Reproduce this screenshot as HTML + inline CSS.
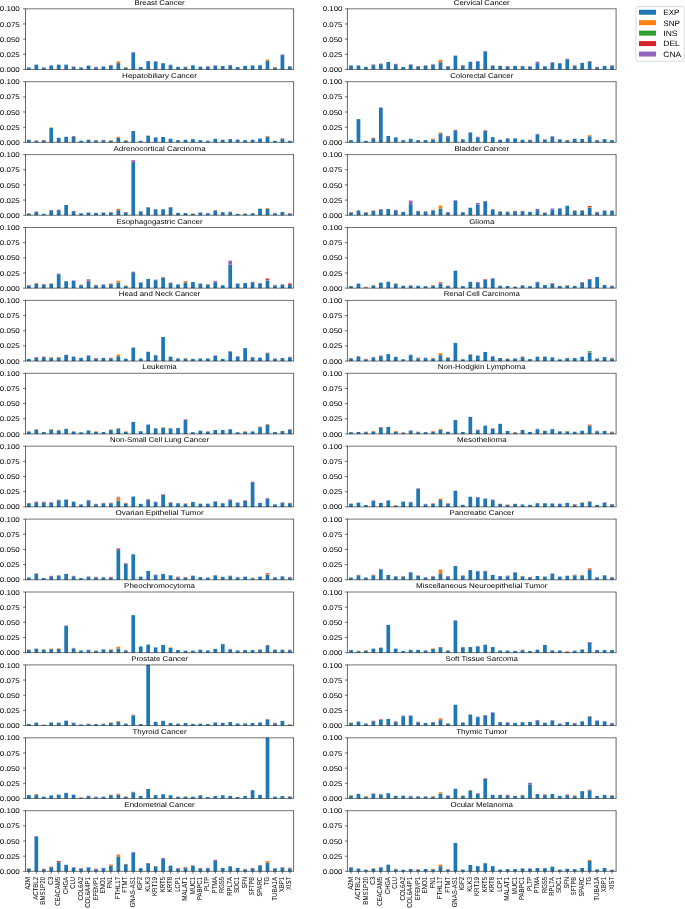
<!DOCTYPE html>
<html><head><meta charset="utf-8"><title>Mutation profile by cancer type</title>
<style>
html,body{margin:0;padding:0;background:#fff;width:685px;height:909px;overflow:hidden;}
svg{display:block;will-change:transform;}
text{font-family:"Liberation Sans",sans-serif;fill:#000;text-rendering:geometricPrecision;}
</style></head><body>
<svg width="685" height="909" viewBox="0 0 685 909">
<rect width="685" height="909" fill="#fff"/>
<rect x="26.99" y="67.45" width="3.72" height="2" fill="#1f77b4"/>
<rect x="34.45" y="64.65" width="3.72" height="4.8" fill="#1f77b4"/>
<rect x="41.9" y="67.45" width="3.72" height="2" fill="#1f77b4"/>
<rect x="49.36" y="65.45" width="3.72" height="4" fill="#1f77b4"/>
<rect x="56.82" y="64.65" width="3.72" height="4.8" fill="#1f77b4"/>
<rect x="64.28" y="64.65" width="3.72" height="4.8" fill="#1f77b4"/>
<rect x="71.74" y="67.05" width="3.72" height="2.4" fill="#1f77b4"/>
<rect x="71.74" y="66.75" width="3.72" height="0.3" fill="#d62728"/>
<rect x="71.74" y="66.45" width="3.72" height="0.3" fill="#9467bd"/>
<rect x="79.19" y="67.45" width="3.72" height="2" fill="#1f77b4"/>
<rect x="86.65" y="65.95" width="3.72" height="3.5" fill="#1f77b4"/>
<rect x="86.65" y="65.45" width="3.72" height="0.5" fill="#9467bd"/>
<rect x="94.11" y="67.35" width="3.72" height="2.1" fill="#1f77b4"/>
<rect x="94.11" y="66.85" width="3.72" height="0.5" fill="#d62728"/>
<rect x="101.57" y="66.45" width="3.72" height="3" fill="#1f77b4"/>
<rect x="109.03" y="65.55" width="3.72" height="3.9" fill="#1f77b4"/>
<rect x="109.03" y="65.05" width="3.72" height="0.5" fill="#d62728"/>
<rect x="116.48" y="63.15" width="3.72" height="6.3" fill="#1f77b4"/>
<rect x="116.48" y="61.35" width="3.72" height="1.8" fill="#ff7f0e"/>
<rect x="123.94" y="67.55" width="3.72" height="1.9" fill="#1f77b4"/>
<rect x="123.94" y="67.05" width="3.72" height="0.5" fill="#ff7f0e"/>
<rect x="131.4" y="52.65" width="3.72" height="16.8" fill="#1f77b4"/>
<rect x="131.4" y="52.15" width="3.72" height="0.5" fill="#9467bd"/>
<rect x="138.86" y="67.05" width="3.72" height="2.4" fill="#1f77b4"/>
<rect x="146.32" y="61.15" width="3.72" height="8.3" fill="#1f77b4"/>
<rect x="153.77" y="61.65" width="3.72" height="7.8" fill="#1f77b4"/>
<rect x="153.77" y="61.15" width="3.72" height="0.5" fill="#9467bd"/>
<rect x="161.23" y="63.25" width="3.72" height="6.2" fill="#1f77b4"/>
<rect x="168.69" y="65.15" width="3.72" height="4.3" fill="#1f77b4"/>
<rect x="168.69" y="64.65" width="3.72" height="0.5" fill="#9467bd"/>
<rect x="176.15" y="66.85" width="3.72" height="2.6" fill="#1f77b4"/>
<rect x="183.61" y="67.25" width="3.72" height="2.2" fill="#1f77b4"/>
<rect x="183.61" y="66.95" width="3.72" height="0.3" fill="#d62728"/>
<rect x="183.61" y="66.65" width="3.72" height="0.3" fill="#9467bd"/>
<rect x="191.06" y="65.25" width="3.72" height="4.2" fill="#1f77b4"/>
<rect x="198.52" y="66.65" width="3.72" height="2.8" fill="#1f77b4"/>
<rect x="205.98" y="66.65" width="3.72" height="2.8" fill="#1f77b4"/>
<rect x="205.98" y="66.35" width="3.72" height="0.3" fill="#ff7f0e"/>
<rect x="205.98" y="66.05" width="3.72" height="0.3" fill="#d62728"/>
<rect x="213.44" y="65.75" width="3.72" height="3.7" fill="#1f77b4"/>
<rect x="213.44" y="65.25" width="3.72" height="0.5" fill="#9467bd"/>
<rect x="220.9" y="66.05" width="3.72" height="3.4" fill="#1f77b4"/>
<rect x="228.35" y="65.35" width="3.72" height="4.1" fill="#1f77b4"/>
<rect x="228.35" y="64.85" width="3.72" height="0.5" fill="#9467bd"/>
<rect x="235.81" y="67.05" width="3.72" height="2.4" fill="#1f77b4"/>
<rect x="243.27" y="65.85" width="3.72" height="3.6" fill="#1f77b4"/>
<rect x="250.73" y="65.45" width="3.72" height="4" fill="#1f77b4"/>
<rect x="258.19" y="65.25" width="3.72" height="4.2" fill="#1f77b4"/>
<rect x="265.64" y="60.75" width="3.72" height="8.7" fill="#1f77b4"/>
<rect x="265.64" y="59.55" width="3.72" height="1.2" fill="#ff7f0e"/>
<rect x="273.1" y="67.75" width="3.72" height="1.7" fill="#1f77b4"/>
<rect x="273.1" y="67.25" width="3.72" height="0.5" fill="#d62728"/>
<rect x="280.56" y="55.05" width="3.72" height="14.4" fill="#1f77b4"/>
<rect x="280.56" y="54.55" width="3.72" height="0.5" fill="#9467bd"/>
<rect x="288.02" y="66.65" width="3.72" height="2.8" fill="#1f77b4"/>
<rect x="288.02" y="66.35" width="3.72" height="0.3" fill="#d62728"/>
<rect x="288.02" y="66.05" width="3.72" height="0.3" fill="#9467bd"/>
<path d="M25.5,8.8V69.45M293.6,8.8V69.45" stroke="#000" stroke-width="0.6" fill="none"/>
<path d="M25.2,8.8H293.9M25.2,69.45H293.9" stroke="#000" stroke-width="0.55" fill="none"/>
<text x="19.8" y="72.05" text-anchor="end" font-size="6.9" textLength="20.04" lengthAdjust="spacingAndGlyphs">0.000</text>
<text x="19.8" y="56.89" text-anchor="end" font-size="6.9" textLength="20.04" lengthAdjust="spacingAndGlyphs">0.025</text>
<text x="19.8" y="41.73" text-anchor="end" font-size="6.9" textLength="20.04" lengthAdjust="spacingAndGlyphs">0.050</text>
<text x="19.8" y="26.56" text-anchor="end" font-size="6.9" textLength="20.04" lengthAdjust="spacingAndGlyphs">0.075</text>
<text x="19.8" y="11.4" text-anchor="end" font-size="6.9" textLength="20.04" lengthAdjust="spacingAndGlyphs">0.100</text>
<path d="M23,69.45H25.5M23,54.29H25.5M23,39.12H25.5M23,23.96H25.5M23,8.8H25.5" stroke="#000" stroke-width="0.55" fill="none"/>
<text x="159.55" y="4.8" text-anchor="middle" font-size="6.9" textLength="50.25" lengthAdjust="spacingAndGlyphs">Breast Cancer</text>
<rect x="349.13" y="65.45" width="3.73" height="4" fill="#1f77b4"/>
<rect x="356.59" y="65.45" width="3.73" height="4" fill="#1f77b4"/>
<rect x="364.05" y="66.85" width="3.73" height="2.6" fill="#1f77b4"/>
<rect x="371.51" y="65.05" width="3.73" height="4.4" fill="#1f77b4"/>
<rect x="371.51" y="64.75" width="3.73" height="0.3" fill="#ff7f0e"/>
<rect x="371.51" y="64.45" width="3.73" height="0.3" fill="#d62728"/>
<rect x="378.97" y="64.15" width="3.73" height="5.3" fill="#1f77b4"/>
<rect x="378.97" y="63.65" width="3.73" height="0.5" fill="#d62728"/>
<rect x="386.42" y="61.95" width="3.73" height="7.5" fill="#1f77b4"/>
<rect x="393.88" y="64.35" width="3.73" height="5.1" fill="#1f77b4"/>
<rect x="393.88" y="63.85" width="3.73" height="0.5" fill="#d62728"/>
<rect x="401.34" y="67.05" width="3.73" height="2.4" fill="#1f77b4"/>
<rect x="408.8" y="64.75" width="3.73" height="4.7" fill="#1f77b4"/>
<rect x="408.8" y="64.25" width="3.73" height="0.5" fill="#9467bd"/>
<rect x="416.26" y="66.55" width="3.73" height="2.9" fill="#1f77b4"/>
<rect x="416.26" y="66.05" width="3.73" height="0.5" fill="#d62728"/>
<rect x="423.71" y="65.75" width="3.73" height="3.7" fill="#1f77b4"/>
<rect x="423.71" y="65.25" width="3.73" height="0.5" fill="#9467bd"/>
<rect x="431.17" y="64.85" width="3.73" height="4.6" fill="#1f77b4"/>
<rect x="431.17" y="64.55" width="3.73" height="0.3" fill="#d62728"/>
<rect x="431.17" y="64.25" width="3.73" height="0.3" fill="#9467bd"/>
<rect x="438.63" y="62.15" width="3.73" height="7.3" fill="#1f77b4"/>
<rect x="438.63" y="59.75" width="3.73" height="2.4" fill="#ff7f0e"/>
<rect x="446.09" y="66.55" width="3.73" height="2.9" fill="#1f77b4"/>
<rect x="446.09" y="66.05" width="3.73" height="0.5" fill="#d62728"/>
<rect x="453.55" y="56.05" width="3.73" height="13.4" fill="#1f77b4"/>
<rect x="453.55" y="55.55" width="3.73" height="0.5" fill="#9467bd"/>
<rect x="461" y="65.75" width="3.73" height="3.7" fill="#1f77b4"/>
<rect x="461" y="65.25" width="3.73" height="0.5" fill="#d62728"/>
<rect x="468.46" y="61.75" width="3.73" height="7.7" fill="#1f77b4"/>
<rect x="475.92" y="61.45" width="3.73" height="8" fill="#1f77b4"/>
<rect x="475.92" y="60.95" width="3.73" height="0.5" fill="#9467bd"/>
<rect x="483.38" y="51.55" width="3.73" height="17.9" fill="#1f77b4"/>
<rect x="483.38" y="51.25" width="3.73" height="0.3" fill="#d62728"/>
<rect x="483.38" y="50.95" width="3.73" height="0.3" fill="#9467bd"/>
<rect x="490.84" y="65.75" width="3.73" height="3.7" fill="#1f77b4"/>
<rect x="490.84" y="65.25" width="3.73" height="0.5" fill="#ff7f0e"/>
<rect x="498.29" y="65.85" width="3.73" height="3.6" fill="#1f77b4"/>
<rect x="505.75" y="66.55" width="3.73" height="2.9" fill="#1f77b4"/>
<rect x="505.75" y="66.05" width="3.73" height="0.5" fill="#d62728"/>
<rect x="513.21" y="65.85" width="3.73" height="3.6" fill="#1f77b4"/>
<rect x="520.67" y="66.35" width="3.73" height="3.1" fill="#1f77b4"/>
<rect x="520.67" y="65.85" width="3.73" height="0.5" fill="#d62728"/>
<rect x="528.13" y="66.65" width="3.73" height="2.8" fill="#1f77b4"/>
<rect x="528.13" y="66.35" width="3.73" height="0.3" fill="#d62728"/>
<rect x="528.13" y="66.05" width="3.73" height="0.3" fill="#9467bd"/>
<rect x="535.58" y="63.15" width="3.73" height="6.3" fill="#1f77b4"/>
<rect x="535.58" y="61.75" width="3.73" height="1.4" fill="#9467bd"/>
<rect x="543.04" y="66.25" width="3.73" height="3.2" fill="#1f77b4"/>
<rect x="550.5" y="62.65" width="3.73" height="6.8" fill="#1f77b4"/>
<rect x="550.5" y="62.15" width="3.73" height="0.5" fill="#9467bd"/>
<rect x="557.96" y="63.25" width="3.73" height="6.2" fill="#1f77b4"/>
<rect x="565.42" y="59.25" width="3.73" height="10.2" fill="#1f77b4"/>
<rect x="565.42" y="58.75" width="3.73" height="0.5" fill="#9467bd"/>
<rect x="572.87" y="65.95" width="3.73" height="3.5" fill="#1f77b4"/>
<rect x="572.87" y="65.45" width="3.73" height="0.5" fill="#d62728"/>
<rect x="580.33" y="62.85" width="3.73" height="6.6" fill="#1f77b4"/>
<rect x="587.79" y="61.65" width="3.73" height="7.8" fill="#1f77b4"/>
<rect x="587.79" y="61.15" width="3.73" height="0.5" fill="#d62728"/>
<rect x="595.25" y="67.35" width="3.73" height="2.1" fill="#1f77b4"/>
<rect x="595.25" y="66.85" width="3.73" height="0.5" fill="#d62728"/>
<rect x="602.71" y="65.85" width="3.73" height="3.6" fill="#1f77b4"/>
<rect x="610.16" y="65.85" width="3.73" height="3.6" fill="#1f77b4"/>
<rect x="610.16" y="65.55" width="3.73" height="0.3" fill="#ff7f0e"/>
<rect x="610.16" y="65.25" width="3.73" height="0.3" fill="#d62728"/>
<path d="M347.4,8.8V69.45M616.1,8.8V69.45" stroke="#000" stroke-width="0.6" fill="none"/>
<path d="M347.1,8.8H616.4M347.1,69.45H616.4" stroke="#000" stroke-width="0.55" fill="none"/>
<text x="342.4" y="72.05" text-anchor="end" font-size="6.9" textLength="19.61" lengthAdjust="spacingAndGlyphs">0.000</text>
<text x="342.4" y="56.89" text-anchor="end" font-size="6.9" textLength="19.61" lengthAdjust="spacingAndGlyphs">0.025</text>
<text x="342.4" y="41.73" text-anchor="end" font-size="6.9" textLength="19.61" lengthAdjust="spacingAndGlyphs">0.050</text>
<text x="342.4" y="26.56" text-anchor="end" font-size="6.9" textLength="19.61" lengthAdjust="spacingAndGlyphs">0.075</text>
<text x="342.4" y="11.4" text-anchor="end" font-size="6.9" textLength="19.61" lengthAdjust="spacingAndGlyphs">0.100</text>
<path d="M344.9,69.45H347.4M344.9,54.29H347.4M344.9,39.12H347.4M344.9,23.96H347.4M344.9,8.8H347.4" stroke="#000" stroke-width="0.55" fill="none"/>
<text x="481.75" y="4.8" text-anchor="middle" font-size="6.9" textLength="55.9" lengthAdjust="spacingAndGlyphs">Cervical Cancer</text>
<rect x="26.99" y="139.75" width="3.72" height="2.6" fill="#1f77b4"/>
<rect x="34.45" y="140.85" width="3.72" height="1.5" fill="#1f77b4"/>
<rect x="34.45" y="140.35" width="3.72" height="0.5" fill="#ff7f0e"/>
<rect x="41.9" y="140.45" width="3.72" height="1.9" fill="#1f77b4"/>
<rect x="41.9" y="139.95" width="3.72" height="0.5" fill="#d62728"/>
<rect x="49.36" y="127.95" width="3.72" height="14.4" fill="#1f77b4"/>
<rect x="49.36" y="127.45" width="3.72" height="0.5" fill="#ff7f0e"/>
<rect x="56.82" y="137.75" width="3.72" height="4.6" fill="#1f77b4"/>
<rect x="64.28" y="136.75" width="3.72" height="5.6" fill="#1f77b4"/>
<rect x="71.74" y="136.55" width="3.72" height="5.8" fill="#1f77b4"/>
<rect x="71.74" y="136.05" width="3.72" height="0.5" fill="#d62728"/>
<rect x="79.19" y="140.75" width="3.72" height="1.6" fill="#1f77b4"/>
<rect x="86.65" y="139.75" width="3.72" height="2.6" fill="#1f77b4"/>
<rect x="94.11" y="140.65" width="3.72" height="1.7" fill="#1f77b4"/>
<rect x="94.11" y="140.15" width="3.72" height="0.5" fill="#d62728"/>
<rect x="101.57" y="140.25" width="3.72" height="2.1" fill="#1f77b4"/>
<rect x="101.57" y="139.75" width="3.72" height="0.5" fill="#9467bd"/>
<rect x="109.03" y="140.65" width="3.72" height="1.7" fill="#1f77b4"/>
<rect x="109.03" y="140.15" width="3.72" height="0.5" fill="#ff7f0e"/>
<rect x="116.48" y="137.95" width="3.72" height="4.4" fill="#1f77b4"/>
<rect x="116.48" y="136.75" width="3.72" height="1.2" fill="#ff7f0e"/>
<rect x="123.94" y="140.65" width="3.72" height="1.7" fill="#1f77b4"/>
<rect x="123.94" y="140.15" width="3.72" height="0.5" fill="#ff7f0e"/>
<rect x="131.4" y="131.05" width="3.72" height="11.3" fill="#1f77b4"/>
<rect x="138.86" y="140.75" width="3.72" height="1.6" fill="#1f77b4"/>
<rect x="146.32" y="135.65" width="3.72" height="6.7" fill="#1f77b4"/>
<rect x="153.77" y="137.35" width="3.72" height="5" fill="#1f77b4"/>
<rect x="161.23" y="136.95" width="3.72" height="5.4" fill="#1f77b4"/>
<rect x="168.69" y="138.75" width="3.72" height="3.6" fill="#1f77b4"/>
<rect x="176.15" y="140.15" width="3.72" height="2.2" fill="#1f77b4"/>
<rect x="183.61" y="139.75" width="3.72" height="2.6" fill="#1f77b4"/>
<rect x="191.06" y="139.15" width="3.72" height="3.2" fill="#1f77b4"/>
<rect x="198.52" y="140.15" width="3.72" height="2.2" fill="#1f77b4"/>
<rect x="205.98" y="140.75" width="3.72" height="1.6" fill="#1f77b4"/>
<rect x="213.44" y="138.75" width="3.72" height="3.6" fill="#1f77b4"/>
<rect x="220.9" y="139.75" width="3.72" height="2.6" fill="#1f77b4"/>
<rect x="228.35" y="139.15" width="3.72" height="3.2" fill="#1f77b4"/>
<rect x="235.81" y="139.55" width="3.72" height="2.8" fill="#1f77b4"/>
<rect x="243.27" y="140.15" width="3.72" height="2.2" fill="#1f77b4"/>
<rect x="250.73" y="139.75" width="3.72" height="2.6" fill="#1f77b4"/>
<rect x="258.19" y="138.55" width="3.72" height="3.8" fill="#1f77b4"/>
<rect x="265.64" y="136.75" width="3.72" height="5.6" fill="#1f77b4"/>
<rect x="265.64" y="135.95" width="3.72" height="0.8" fill="#ff7f0e"/>
<rect x="273.1" y="140.75" width="3.72" height="1.6" fill="#1f77b4"/>
<rect x="280.56" y="138.95" width="3.72" height="3.4" fill="#1f77b4"/>
<rect x="280.56" y="138.65" width="3.72" height="0.3" fill="#ff7f0e"/>
<rect x="280.56" y="138.35" width="3.72" height="0.3" fill="#d62728"/>
<rect x="288.02" y="140.75" width="3.72" height="1.6" fill="#1f77b4"/>
<path d="M25.5,81.7V142.35M293.6,81.7V142.35" stroke="#000" stroke-width="0.6" fill="none"/>
<path d="M25.2,81.7H293.9M25.2,142.35H293.9" stroke="#000" stroke-width="0.55" fill="none"/>
<text x="19.8" y="144.95" text-anchor="end" font-size="6.9" textLength="20.04" lengthAdjust="spacingAndGlyphs">0.000</text>
<text x="19.8" y="129.79" text-anchor="end" font-size="6.9" textLength="20.04" lengthAdjust="spacingAndGlyphs">0.025</text>
<text x="19.8" y="114.62" text-anchor="end" font-size="6.9" textLength="20.04" lengthAdjust="spacingAndGlyphs">0.050</text>
<text x="19.8" y="99.46" text-anchor="end" font-size="6.9" textLength="20.04" lengthAdjust="spacingAndGlyphs">0.075</text>
<text x="19.8" y="84.3" text-anchor="end" font-size="6.9" textLength="20.04" lengthAdjust="spacingAndGlyphs">0.100</text>
<path d="M23,142.35H25.5M23,127.19H25.5M23,112.02H25.5M23,96.86H25.5M23,81.7H25.5" stroke="#000" stroke-width="0.55" fill="none"/>
<text x="159.55" y="77.7" text-anchor="middle" font-size="6.9" textLength="74.84" lengthAdjust="spacingAndGlyphs">Hepatobiliary Cancer</text>
<rect x="349.13" y="140.15" width="3.73" height="2.2" fill="#1f77b4"/>
<rect x="356.59" y="119.15" width="3.73" height="23.2" fill="#1f77b4"/>
<rect x="364.05" y="140.75" width="3.73" height="1.6" fill="#1f77b4"/>
<rect x="371.51" y="138.35" width="3.73" height="4" fill="#1f77b4"/>
<rect x="371.51" y="138.05" width="3.73" height="0.3" fill="#ff7f0e"/>
<rect x="371.51" y="137.75" width="3.73" height="0.3" fill="#d62728"/>
<rect x="378.97" y="107.95" width="3.73" height="34.4" fill="#1f77b4"/>
<rect x="378.97" y="107.45" width="3.73" height="0.5" fill="#9467bd"/>
<rect x="386.42" y="135.95" width="3.73" height="6.4" fill="#1f77b4"/>
<rect x="393.88" y="137.35" width="3.73" height="5" fill="#1f77b4"/>
<rect x="401.34" y="140.15" width="3.73" height="2.2" fill="#1f77b4"/>
<rect x="408.8" y="138.75" width="3.73" height="3.6" fill="#1f77b4"/>
<rect x="416.26" y="140.15" width="3.73" height="2.2" fill="#1f77b4"/>
<rect x="423.71" y="140.15" width="3.73" height="2.2" fill="#1f77b4"/>
<rect x="431.17" y="139.35" width="3.73" height="3" fill="#1f77b4"/>
<rect x="431.17" y="139.05" width="3.73" height="0.3" fill="#ff7f0e"/>
<rect x="431.17" y="138.75" width="3.73" height="0.3" fill="#d62728"/>
<rect x="438.63" y="133.45" width="3.73" height="8.9" fill="#1f77b4"/>
<rect x="438.63" y="132.45" width="3.73" height="1" fill="#ff7f0e"/>
<rect x="446.09" y="136.45" width="3.73" height="5.9" fill="#1f77b4"/>
<rect x="446.09" y="135.95" width="3.73" height="0.5" fill="#d62728"/>
<rect x="453.55" y="130.35" width="3.73" height="12" fill="#1f77b4"/>
<rect x="453.55" y="129.85" width="3.73" height="0.5" fill="#d62728"/>
<rect x="461" y="139.35" width="3.73" height="3" fill="#1f77b4"/>
<rect x="468.46" y="132.45" width="3.73" height="9.9" fill="#1f77b4"/>
<rect x="475.92" y="137.25" width="3.73" height="5.1" fill="#1f77b4"/>
<rect x="475.92" y="136.75" width="3.73" height="0.5" fill="#9467bd"/>
<rect x="483.38" y="130.95" width="3.73" height="11.4" fill="#1f77b4"/>
<rect x="483.38" y="130.45" width="3.73" height="0.5" fill="#d62728"/>
<rect x="490.84" y="137.15" width="3.73" height="5.2" fill="#1f77b4"/>
<rect x="498.29" y="139.75" width="3.73" height="2.6" fill="#1f77b4"/>
<rect x="505.75" y="138.65" width="3.73" height="3.7" fill="#1f77b4"/>
<rect x="505.75" y="138.15" width="3.73" height="0.5" fill="#9467bd"/>
<rect x="513.21" y="138.35" width="3.73" height="4" fill="#1f77b4"/>
<rect x="520.67" y="139.75" width="3.73" height="2.6" fill="#1f77b4"/>
<rect x="528.13" y="140.25" width="3.73" height="2.1" fill="#1f77b4"/>
<rect x="528.13" y="139.75" width="3.73" height="0.5" fill="#d62728"/>
<rect x="535.58" y="134.35" width="3.73" height="8" fill="#1f77b4"/>
<rect x="535.58" y="133.85" width="3.73" height="0.5" fill="#9467bd"/>
<rect x="543.04" y="139.45" width="3.73" height="2.9" fill="#1f77b4"/>
<rect x="543.04" y="138.95" width="3.73" height="0.5" fill="#ff7f0e"/>
<rect x="550.5" y="136.65" width="3.73" height="5.7" fill="#1f77b4"/>
<rect x="550.5" y="136.15" width="3.73" height="0.5" fill="#9467bd"/>
<rect x="557.96" y="139.55" width="3.73" height="2.8" fill="#1f77b4"/>
<rect x="557.96" y="139.25" width="3.73" height="0.3" fill="#d62728"/>
<rect x="557.96" y="138.95" width="3.73" height="0.3" fill="#9467bd"/>
<rect x="565.42" y="140.45" width="3.73" height="1.9" fill="#1f77b4"/>
<rect x="565.42" y="139.95" width="3.73" height="0.5" fill="#d62728"/>
<rect x="572.87" y="138.75" width="3.73" height="3.6" fill="#1f77b4"/>
<rect x="580.33" y="138.95" width="3.73" height="3.4" fill="#1f77b4"/>
<rect x="587.79" y="136.25" width="3.73" height="6.1" fill="#1f77b4"/>
<rect x="587.79" y="135.25" width="3.73" height="1" fill="#ff7f0e"/>
<rect x="595.25" y="140.45" width="3.73" height="1.9" fill="#1f77b4"/>
<rect x="595.25" y="139.95" width="3.73" height="0.5" fill="#d62728"/>
<rect x="602.71" y="139.15" width="3.73" height="3.2" fill="#1f77b4"/>
<rect x="610.16" y="140.15" width="3.73" height="2.2" fill="#1f77b4"/>
<path d="M347.4,81.7V142.35M616.1,81.7V142.35" stroke="#000" stroke-width="0.6" fill="none"/>
<path d="M347.1,81.7H616.4M347.1,142.35H616.4" stroke="#000" stroke-width="0.55" fill="none"/>
<text x="342.4" y="144.95" text-anchor="end" font-size="6.9" textLength="19.61" lengthAdjust="spacingAndGlyphs">0.000</text>
<text x="342.4" y="129.79" text-anchor="end" font-size="6.9" textLength="19.61" lengthAdjust="spacingAndGlyphs">0.025</text>
<text x="342.4" y="114.62" text-anchor="end" font-size="6.9" textLength="19.61" lengthAdjust="spacingAndGlyphs">0.050</text>
<text x="342.4" y="99.46" text-anchor="end" font-size="6.9" textLength="19.61" lengthAdjust="spacingAndGlyphs">0.075</text>
<text x="342.4" y="84.3" text-anchor="end" font-size="6.9" textLength="19.61" lengthAdjust="spacingAndGlyphs">0.100</text>
<path d="M344.9,142.35H347.4M344.9,127.19H347.4M344.9,112.02H347.4M344.9,96.86H347.4M344.9,81.7H347.4" stroke="#000" stroke-width="0.55" fill="none"/>
<text x="481.75" y="77.7" text-anchor="middle" font-size="6.9" textLength="63.17" lengthAdjust="spacingAndGlyphs">Colorectal Cancer</text>
<rect x="26.99" y="213.55" width="3.72" height="1.7" fill="#1f77b4"/>
<rect x="26.99" y="213.05" width="3.72" height="0.5" fill="#ff7f0e"/>
<rect x="34.45" y="212.05" width="3.72" height="3.2" fill="#1f77b4"/>
<rect x="34.45" y="211.75" width="3.72" height="0.3" fill="#d62728"/>
<rect x="34.45" y="211.45" width="3.72" height="0.3" fill="#9467bd"/>
<rect x="41.9" y="213.85" width="3.72" height="1.4" fill="#1f77b4"/>
<rect x="49.36" y="210.55" width="3.72" height="4.7" fill="#1f77b4"/>
<rect x="49.36" y="210.05" width="3.72" height="0.5" fill="#d62728"/>
<rect x="56.82" y="210.15" width="3.72" height="5.1" fill="#1f77b4"/>
<rect x="56.82" y="209.65" width="3.72" height="0.5" fill="#9467bd"/>
<rect x="64.28" y="204.95" width="3.72" height="10.3" fill="#1f77b4"/>
<rect x="71.74" y="211.35" width="3.72" height="3.9" fill="#1f77b4"/>
<rect x="71.74" y="210.85" width="3.72" height="0.5" fill="#d62728"/>
<rect x="79.19" y="213.25" width="3.72" height="2" fill="#1f77b4"/>
<rect x="86.65" y="212.75" width="3.72" height="2.5" fill="#1f77b4"/>
<rect x="86.65" y="212.25" width="3.72" height="0.5" fill="#9467bd"/>
<rect x="94.11" y="212.85" width="3.72" height="2.4" fill="#1f77b4"/>
<rect x="101.57" y="212.75" width="3.72" height="2.5" fill="#1f77b4"/>
<rect x="101.57" y="212.25" width="3.72" height="0.5" fill="#9467bd"/>
<rect x="109.03" y="212.55" width="3.72" height="2.7" fill="#1f77b4"/>
<rect x="109.03" y="212.05" width="3.72" height="0.5" fill="#d62728"/>
<rect x="116.48" y="210.15" width="3.72" height="5.1" fill="#1f77b4"/>
<rect x="116.48" y="208.75" width="3.72" height="1.4" fill="#ff7f0e"/>
<rect x="123.94" y="212.55" width="3.72" height="2.7" fill="#1f77b4"/>
<rect x="123.94" y="212.05" width="3.72" height="0.5" fill="#d62728"/>
<rect x="131.4" y="162.05" width="3.72" height="53.2" fill="#1f77b4"/>
<rect x="131.4" y="161.35" width="3.72" height="0.7" fill="#d62728"/>
<rect x="131.4" y="160.15" width="3.72" height="1.2" fill="#9467bd"/>
<rect x="138.86" y="211.35" width="3.72" height="3.9" fill="#1f77b4"/>
<rect x="138.86" y="210.85" width="3.72" height="0.5" fill="#ff7f0e"/>
<rect x="146.32" y="207.35" width="3.72" height="7.9" fill="#1f77b4"/>
<rect x="153.77" y="209.55" width="3.72" height="5.7" fill="#1f77b4"/>
<rect x="153.77" y="209.25" width="3.72" height="0.3" fill="#d62728"/>
<rect x="153.77" y="208.95" width="3.72" height="0.3" fill="#9467bd"/>
<rect x="161.23" y="209.25" width="3.72" height="6" fill="#1f77b4"/>
<rect x="168.69" y="207.55" width="3.72" height="7.7" fill="#1f77b4"/>
<rect x="168.69" y="207.25" width="3.72" height="0.3" fill="#d62728"/>
<rect x="168.69" y="206.95" width="3.72" height="0.3" fill="#9467bd"/>
<rect x="176.15" y="212.85" width="3.72" height="2.4" fill="#1f77b4"/>
<rect x="183.61" y="213.05" width="3.72" height="2.2" fill="#1f77b4"/>
<rect x="191.06" y="213.95" width="3.72" height="1.3" fill="#1f77b4"/>
<rect x="191.06" y="213.45" width="3.72" height="0.5" fill="#ff7f0e"/>
<rect x="198.52" y="212.45" width="3.72" height="2.8" fill="#1f77b4"/>
<rect x="205.98" y="213.35" width="3.72" height="1.9" fill="#1f77b4"/>
<rect x="205.98" y="212.85" width="3.72" height="0.5" fill="#9467bd"/>
<rect x="213.44" y="210.75" width="3.72" height="4.5" fill="#1f77b4"/>
<rect x="213.44" y="210.25" width="3.72" height="0.5" fill="#d62728"/>
<rect x="220.9" y="212.25" width="3.72" height="3" fill="#1f77b4"/>
<rect x="228.35" y="212.15" width="3.72" height="3.1" fill="#1f77b4"/>
<rect x="228.35" y="211.65" width="3.72" height="0.5" fill="#9467bd"/>
<rect x="235.81" y="213.85" width="3.72" height="1.4" fill="#1f77b4"/>
<rect x="243.27" y="213.95" width="3.72" height="1.3" fill="#1f77b4"/>
<rect x="243.27" y="213.45" width="3.72" height="0.5" fill="#ff7f0e"/>
<rect x="250.73" y="213.25" width="3.72" height="2" fill="#1f77b4"/>
<rect x="258.19" y="208.65" width="3.72" height="6.6" fill="#1f77b4"/>
<rect x="265.64" y="208.95" width="3.72" height="6.3" fill="#1f77b4"/>
<rect x="265.64" y="208.15" width="3.72" height="0.8" fill="#ff7f0e"/>
<rect x="273.1" y="213.35" width="3.72" height="1.9" fill="#1f77b4"/>
<rect x="273.1" y="212.85" width="3.72" height="0.5" fill="#9467bd"/>
<rect x="280.56" y="212.05" width="3.72" height="3.2" fill="#1f77b4"/>
<rect x="288.02" y="213.65" width="3.72" height="1.6" fill="#1f77b4"/>
<rect x="288.02" y="213.35" width="3.72" height="0.3" fill="#ff7f0e"/>
<rect x="288.02" y="213.05" width="3.72" height="0.3" fill="#d62728"/>
<path d="M25.5,154.6V215.25M293.6,154.6V215.25" stroke="#000" stroke-width="0.6" fill="none"/>
<path d="M25.2,154.6H293.9M25.2,215.25H293.9" stroke="#000" stroke-width="0.55" fill="none"/>
<text x="19.8" y="217.85" text-anchor="end" font-size="6.9" textLength="20.04" lengthAdjust="spacingAndGlyphs">0.000</text>
<text x="19.8" y="202.69" text-anchor="end" font-size="6.9" textLength="20.04" lengthAdjust="spacingAndGlyphs">0.025</text>
<text x="19.8" y="187.53" text-anchor="end" font-size="6.9" textLength="20.04" lengthAdjust="spacingAndGlyphs">0.050</text>
<text x="19.8" y="172.36" text-anchor="end" font-size="6.9" textLength="20.04" lengthAdjust="spacingAndGlyphs">0.075</text>
<text x="19.8" y="157.2" text-anchor="end" font-size="6.9" textLength="20.04" lengthAdjust="spacingAndGlyphs">0.100</text>
<path d="M23,215.25H25.5M23,200.09H25.5M23,184.93H25.5M23,169.76H25.5M23,154.6H25.5" stroke="#000" stroke-width="0.55" fill="none"/>
<text x="159.55" y="150.6" text-anchor="middle" font-size="6.9" textLength="92.12" lengthAdjust="spacingAndGlyphs">Adrenocortical Carcinoma</text>
<rect x="349.13" y="212.75" width="3.73" height="2.5" fill="#1f77b4"/>
<rect x="349.13" y="212.25" width="3.73" height="0.5" fill="#d62728"/>
<rect x="356.59" y="210.45" width="3.73" height="4.8" fill="#1f77b4"/>
<rect x="364.05" y="212.75" width="3.73" height="2.5" fill="#1f77b4"/>
<rect x="364.05" y="212.25" width="3.73" height="0.5" fill="#d62728"/>
<rect x="371.51" y="211.05" width="3.73" height="4.2" fill="#1f77b4"/>
<rect x="371.51" y="210.75" width="3.73" height="0.3" fill="#ff7f0e"/>
<rect x="371.51" y="210.45" width="3.73" height="0.3" fill="#d62728"/>
<rect x="378.97" y="209.55" width="3.73" height="5.7" fill="#1f77b4"/>
<rect x="378.97" y="209.05" width="3.73" height="0.5" fill="#9467bd"/>
<rect x="386.42" y="209.05" width="3.73" height="6.2" fill="#1f77b4"/>
<rect x="393.88" y="210.35" width="3.73" height="4.9" fill="#1f77b4"/>
<rect x="393.88" y="209.85" width="3.73" height="0.5" fill="#d62728"/>
<rect x="401.34" y="211.85" width="3.73" height="3.4" fill="#1f77b4"/>
<rect x="408.8" y="204.15" width="3.73" height="11.1" fill="#1f77b4"/>
<rect x="408.8" y="200.55" width="3.73" height="3.6" fill="#9467bd"/>
<rect x="416.26" y="211.35" width="3.73" height="3.9" fill="#1f77b4"/>
<rect x="416.26" y="210.85" width="3.73" height="0.5" fill="#d62728"/>
<rect x="423.71" y="211.75" width="3.73" height="3.5" fill="#1f77b4"/>
<rect x="423.71" y="211.25" width="3.73" height="0.5" fill="#9467bd"/>
<rect x="431.17" y="210.45" width="3.73" height="4.8" fill="#1f77b4"/>
<rect x="431.17" y="210.15" width="3.73" height="0.3" fill="#ff7f0e"/>
<rect x="431.17" y="209.85" width="3.73" height="0.3" fill="#d62728"/>
<rect x="438.63" y="208.75" width="3.73" height="6.5" fill="#1f77b4"/>
<rect x="438.63" y="205.55" width="3.73" height="3.2" fill="#ff7f0e"/>
<rect x="446.09" y="212.55" width="3.73" height="2.7" fill="#1f77b4"/>
<rect x="446.09" y="212.05" width="3.73" height="0.5" fill="#d62728"/>
<rect x="453.55" y="200.65" width="3.73" height="14.6" fill="#1f77b4"/>
<rect x="453.55" y="200.15" width="3.73" height="0.5" fill="#9467bd"/>
<rect x="461" y="212.35" width="3.73" height="2.9" fill="#1f77b4"/>
<rect x="461" y="211.85" width="3.73" height="0.5" fill="#9467bd"/>
<rect x="468.46" y="207.75" width="3.73" height="7.5" fill="#1f77b4"/>
<rect x="475.92" y="204.75" width="3.73" height="10.5" fill="#1f77b4"/>
<rect x="475.92" y="202.95" width="3.73" height="1.8" fill="#9467bd"/>
<rect x="483.38" y="201.45" width="3.73" height="13.8" fill="#1f77b4"/>
<rect x="483.38" y="200.95" width="3.73" height="0.5" fill="#d62728"/>
<rect x="490.84" y="209.55" width="3.73" height="5.7" fill="#1f77b4"/>
<rect x="490.84" y="209.05" width="3.73" height="0.5" fill="#9467bd"/>
<rect x="498.29" y="211.45" width="3.73" height="3.8" fill="#1f77b4"/>
<rect x="505.75" y="212.05" width="3.73" height="3.2" fill="#1f77b4"/>
<rect x="505.75" y="211.75" width="3.73" height="0.3" fill="#ff7f0e"/>
<rect x="505.75" y="211.45" width="3.73" height="0.3" fill="#2ca02c"/>
<rect x="513.21" y="211.35" width="3.73" height="3.9" fill="#1f77b4"/>
<rect x="513.21" y="210.85" width="3.73" height="0.5" fill="#d62728"/>
<rect x="520.67" y="211.35" width="3.73" height="3.9" fill="#1f77b4"/>
<rect x="520.67" y="210.85" width="3.73" height="0.5" fill="#d62728"/>
<rect x="528.13" y="211.85" width="3.73" height="3.4" fill="#1f77b4"/>
<rect x="535.58" y="210.05" width="3.73" height="5.2" fill="#1f77b4"/>
<rect x="535.58" y="208.85" width="3.73" height="1.2" fill="#9467bd"/>
<rect x="543.04" y="212.95" width="3.73" height="2.3" fill="#1f77b4"/>
<rect x="543.04" y="212.45" width="3.73" height="0.5" fill="#ff7f0e"/>
<rect x="550.5" y="209.65" width="3.73" height="5.6" fill="#1f77b4"/>
<rect x="550.5" y="208.45" width="3.73" height="1.2" fill="#9467bd"/>
<rect x="557.96" y="208.65" width="3.73" height="6.6" fill="#1f77b4"/>
<rect x="557.96" y="208.15" width="3.73" height="0.5" fill="#9467bd"/>
<rect x="565.42" y="205.75" width="3.73" height="9.5" fill="#1f77b4"/>
<rect x="572.87" y="210.85" width="3.73" height="4.4" fill="#1f77b4"/>
<rect x="572.87" y="210.55" width="3.73" height="0.3" fill="#ff7f0e"/>
<rect x="572.87" y="210.25" width="3.73" height="0.3" fill="#d62728"/>
<rect x="580.33" y="210.45" width="3.73" height="4.8" fill="#1f77b4"/>
<rect x="587.79" y="207.75" width="3.73" height="7.5" fill="#1f77b4"/>
<rect x="587.79" y="206.95" width="3.73" height="0.8" fill="#ff7f0e"/>
<rect x="587.79" y="205.95" width="3.73" height="1" fill="#d62728"/>
<rect x="595.25" y="212.35" width="3.73" height="2.9" fill="#1f77b4"/>
<rect x="595.25" y="211.85" width="3.73" height="0.5" fill="#d62728"/>
<rect x="602.71" y="210.75" width="3.73" height="4.5" fill="#1f77b4"/>
<rect x="602.71" y="210.25" width="3.73" height="0.5" fill="#9467bd"/>
<rect x="610.16" y="211.05" width="3.73" height="4.2" fill="#1f77b4"/>
<rect x="610.16" y="210.75" width="3.73" height="0.3" fill="#d62728"/>
<rect x="610.16" y="210.45" width="3.73" height="0.3" fill="#9467bd"/>
<path d="M347.4,154.6V215.25M616.1,154.6V215.25" stroke="#000" stroke-width="0.6" fill="none"/>
<path d="M347.1,154.6H616.4M347.1,215.25H616.4" stroke="#000" stroke-width="0.55" fill="none"/>
<text x="342.4" y="217.85" text-anchor="end" font-size="6.9" textLength="19.61" lengthAdjust="spacingAndGlyphs">0.000</text>
<text x="342.4" y="202.69" text-anchor="end" font-size="6.9" textLength="19.61" lengthAdjust="spacingAndGlyphs">0.025</text>
<text x="342.4" y="187.53" text-anchor="end" font-size="6.9" textLength="19.61" lengthAdjust="spacingAndGlyphs">0.050</text>
<text x="342.4" y="172.36" text-anchor="end" font-size="6.9" textLength="19.61" lengthAdjust="spacingAndGlyphs">0.075</text>
<text x="342.4" y="157.2" text-anchor="end" font-size="6.9" textLength="19.61" lengthAdjust="spacingAndGlyphs">0.100</text>
<path d="M344.9,215.25H347.4M344.9,200.09H347.4M344.9,184.93H347.4M344.9,169.76H347.4M344.9,154.6H347.4" stroke="#000" stroke-width="0.55" fill="none"/>
<text x="481.75" y="150.6" text-anchor="middle" font-size="6.9" textLength="54.75" lengthAdjust="spacingAndGlyphs">Bladder Cancer</text>
<rect x="26.99" y="285.65" width="3.72" height="2.5" fill="#1f77b4"/>
<rect x="26.99" y="285.15" width="3.72" height="0.5" fill="#d62728"/>
<rect x="34.45" y="283.85" width="3.72" height="4.3" fill="#1f77b4"/>
<rect x="34.45" y="283.35" width="3.72" height="0.5" fill="#d62728"/>
<rect x="41.9" y="284.65" width="3.72" height="3.5" fill="#1f77b4"/>
<rect x="41.9" y="284.15" width="3.72" height="0.5" fill="#d62728"/>
<rect x="49.36" y="283.95" width="3.72" height="4.2" fill="#1f77b4"/>
<rect x="49.36" y="283.65" width="3.72" height="0.3" fill="#ff7f0e"/>
<rect x="49.36" y="283.35" width="3.72" height="0.3" fill="#d62728"/>
<rect x="56.82" y="274.15" width="3.72" height="14" fill="#1f77b4"/>
<rect x="56.82" y="273.65" width="3.72" height="0.5" fill="#9467bd"/>
<rect x="64.28" y="281.25" width="3.72" height="6.9" fill="#1f77b4"/>
<rect x="71.74" y="280.95" width="3.72" height="7.2" fill="#1f77b4"/>
<rect x="71.74" y="280.45" width="3.72" height="0.5" fill="#9467bd"/>
<rect x="79.19" y="285.25" width="3.72" height="2.9" fill="#1f77b4"/>
<rect x="79.19" y="284.75" width="3.72" height="0.5" fill="#d62728"/>
<rect x="86.65" y="281.25" width="3.72" height="6.9" fill="#1f77b4"/>
<rect x="86.65" y="280.65" width="3.72" height="0.6" fill="#d62728"/>
<rect x="86.65" y="279.25" width="3.72" height="1.4" fill="#9467bd"/>
<rect x="94.11" y="285.45" width="3.72" height="2.7" fill="#1f77b4"/>
<rect x="94.11" y="284.95" width="3.72" height="0.5" fill="#d62728"/>
<rect x="101.57" y="284.85" width="3.72" height="3.3" fill="#1f77b4"/>
<rect x="101.57" y="284.35" width="3.72" height="0.5" fill="#9467bd"/>
<rect x="109.03" y="284.15" width="3.72" height="4" fill="#1f77b4"/>
<rect x="109.03" y="283.85" width="3.72" height="0.3" fill="#ff7f0e"/>
<rect x="109.03" y="283.55" width="3.72" height="0.3" fill="#d62728"/>
<rect x="116.48" y="282.85" width="3.72" height="5.3" fill="#1f77b4"/>
<rect x="116.48" y="280.65" width="3.72" height="2.2" fill="#ff7f0e"/>
<rect x="123.94" y="286.05" width="3.72" height="2.1" fill="#1f77b4"/>
<rect x="123.94" y="285.55" width="3.72" height="0.5" fill="#ff7f0e"/>
<rect x="131.4" y="272.25" width="3.72" height="15.9" fill="#1f77b4"/>
<rect x="131.4" y="271.95" width="3.72" height="0.3" fill="#d62728"/>
<rect x="131.4" y="271.65" width="3.72" height="0.3" fill="#9467bd"/>
<rect x="138.86" y="282.95" width="3.72" height="5.2" fill="#1f77b4"/>
<rect x="138.86" y="282.65" width="3.72" height="0.3" fill="#d62728"/>
<rect x="138.86" y="282.35" width="3.72" height="0.3" fill="#9467bd"/>
<rect x="146.32" y="278.85" width="3.72" height="9.3" fill="#1f77b4"/>
<rect x="153.77" y="280.15" width="3.72" height="8" fill="#1f77b4"/>
<rect x="153.77" y="279.65" width="3.72" height="0.5" fill="#9467bd"/>
<rect x="161.23" y="277.55" width="3.72" height="10.6" fill="#1f77b4"/>
<rect x="161.23" y="277.25" width="3.72" height="0.3" fill="#ff7f0e"/>
<rect x="161.23" y="276.95" width="3.72" height="0.3" fill="#d62728"/>
<rect x="168.69" y="283.15" width="3.72" height="5" fill="#1f77b4"/>
<rect x="168.69" y="282.65" width="3.72" height="0.5" fill="#d62728"/>
<rect x="176.15" y="284.45" width="3.72" height="3.7" fill="#1f77b4"/>
<rect x="183.61" y="282.95" width="3.72" height="5.2" fill="#1f77b4"/>
<rect x="183.61" y="282.35" width="3.72" height="0.6" fill="#ff7f0e"/>
<rect x="183.61" y="281.85" width="3.72" height="0.5" fill="#2ca02c"/>
<rect x="183.61" y="281.25" width="3.72" height="0.6" fill="#d62728"/>
<rect x="191.06" y="282.05" width="3.72" height="6.1" fill="#1f77b4"/>
<rect x="198.52" y="283.95" width="3.72" height="4.2" fill="#1f77b4"/>
<rect x="198.52" y="283.45" width="3.72" height="0.5" fill="#9467bd"/>
<rect x="205.98" y="284.85" width="3.72" height="3.3" fill="#1f77b4"/>
<rect x="205.98" y="284.55" width="3.72" height="0.3" fill="#d62728"/>
<rect x="205.98" y="284.25" width="3.72" height="0.3" fill="#9467bd"/>
<rect x="213.44" y="282.35" width="3.72" height="5.8" fill="#1f77b4"/>
<rect x="213.44" y="281.85" width="3.72" height="0.5" fill="#d62728"/>
<rect x="213.44" y="280.85" width="3.72" height="1" fill="#9467bd"/>
<rect x="220.9" y="285.25" width="3.72" height="2.9" fill="#1f77b4"/>
<rect x="228.35" y="265.05" width="3.72" height="23.1" fill="#1f77b4"/>
<rect x="228.35" y="264.65" width="3.72" height="0.4" fill="#2ca02c"/>
<rect x="228.35" y="260.65" width="3.72" height="4" fill="#9467bd"/>
<rect x="235.81" y="283.95" width="3.72" height="4.2" fill="#1f77b4"/>
<rect x="235.81" y="283.45" width="3.72" height="0.5" fill="#9467bd"/>
<rect x="243.27" y="283.05" width="3.72" height="5.1" fill="#1f77b4"/>
<rect x="250.73" y="282.35" width="3.72" height="5.8" fill="#1f77b4"/>
<rect x="250.73" y="281.85" width="3.72" height="0.5" fill="#d62728"/>
<rect x="258.19" y="283.55" width="3.72" height="4.6" fill="#1f77b4"/>
<rect x="258.19" y="283.05" width="3.72" height="0.5" fill="#d62728"/>
<rect x="265.64" y="280.35" width="3.72" height="7.8" fill="#1f77b4"/>
<rect x="265.64" y="279.95" width="3.72" height="0.4" fill="#ff7f0e"/>
<rect x="265.64" y="278.55" width="3.72" height="1.4" fill="#d62728"/>
<rect x="273.1" y="285.35" width="3.72" height="2.8" fill="#1f77b4"/>
<rect x="273.1" y="284.85" width="3.72" height="0.5" fill="#9467bd"/>
<rect x="280.56" y="284.45" width="3.72" height="3.7" fill="#1f77b4"/>
<rect x="288.02" y="284.85" width="3.72" height="3.3" fill="#1f77b4"/>
<rect x="288.02" y="283.65" width="3.72" height="1.2" fill="#d62728"/>
<rect x="288.02" y="283.05" width="3.72" height="0.6" fill="#9467bd"/>
<path d="M25.5,227.5V288.15M293.6,227.5V288.15" stroke="#000" stroke-width="0.6" fill="none"/>
<path d="M25.2,227.5H293.9M25.2,288.15H293.9" stroke="#000" stroke-width="0.55" fill="none"/>
<text x="19.8" y="290.75" text-anchor="end" font-size="6.9" textLength="20.04" lengthAdjust="spacingAndGlyphs">0.000</text>
<text x="19.8" y="275.59" text-anchor="end" font-size="6.9" textLength="20.04" lengthAdjust="spacingAndGlyphs">0.025</text>
<text x="19.8" y="260.43" text-anchor="end" font-size="6.9" textLength="20.04" lengthAdjust="spacingAndGlyphs">0.050</text>
<text x="19.8" y="245.26" text-anchor="end" font-size="6.9" textLength="20.04" lengthAdjust="spacingAndGlyphs">0.075</text>
<text x="19.8" y="230.1" text-anchor="end" font-size="6.9" textLength="20.04" lengthAdjust="spacingAndGlyphs">0.100</text>
<path d="M23,288.15H25.5M23,272.99H25.5M23,257.83H25.5M23,242.66H25.5M23,227.5H25.5" stroke="#000" stroke-width="0.55" fill="none"/>
<text x="159.55" y="223.5" text-anchor="middle" font-size="6.9" textLength="86.13" lengthAdjust="spacingAndGlyphs">Esophagogastric Cancer</text>
<rect x="349.13" y="286.15" width="3.73" height="2" fill="#1f77b4"/>
<rect x="356.59" y="283.55" width="3.73" height="4.6" fill="#1f77b4"/>
<rect x="364.05" y="287.25" width="3.73" height="0.9" fill="#1f77b4"/>
<rect x="364.05" y="286.75" width="3.73" height="0.5" fill="#ff7f0e"/>
<rect x="371.51" y="285.45" width="3.73" height="2.7" fill="#1f77b4"/>
<rect x="371.51" y="284.95" width="3.73" height="0.5" fill="#ff7f0e"/>
<rect x="378.97" y="282.55" width="3.73" height="5.6" fill="#1f77b4"/>
<rect x="386.42" y="281.75" width="3.73" height="6.4" fill="#1f77b4"/>
<rect x="393.88" y="283.85" width="3.73" height="4.3" fill="#1f77b4"/>
<rect x="393.88" y="283.35" width="3.73" height="0.5" fill="#ff7f0e"/>
<rect x="401.34" y="285.75" width="3.73" height="2.4" fill="#1f77b4"/>
<rect x="408.8" y="285.85" width="3.73" height="2.3" fill="#1f77b4"/>
<rect x="408.8" y="285.35" width="3.73" height="0.5" fill="#d62728"/>
<rect x="416.26" y="285.75" width="3.73" height="2.4" fill="#1f77b4"/>
<rect x="423.71" y="286.15" width="3.73" height="2" fill="#1f77b4"/>
<rect x="431.17" y="285.65" width="3.73" height="2.5" fill="#1f77b4"/>
<rect x="431.17" y="285.15" width="3.73" height="0.5" fill="#ff7f0e"/>
<rect x="438.63" y="283.35" width="3.73" height="4.8" fill="#1f77b4"/>
<rect x="438.63" y="282.35" width="3.73" height="1" fill="#ff7f0e"/>
<rect x="438.63" y="281.95" width="3.73" height="0.4" fill="#d62728"/>
<rect x="446.09" y="286.05" width="3.73" height="2.1" fill="#1f77b4"/>
<rect x="446.09" y="285.55" width="3.73" height="0.5" fill="#ff7f0e"/>
<rect x="453.55" y="270.65" width="3.73" height="17.5" fill="#1f77b4"/>
<rect x="461" y="286.15" width="3.73" height="2" fill="#1f77b4"/>
<rect x="468.46" y="281.75" width="3.73" height="6.4" fill="#1f77b4"/>
<rect x="475.92" y="282.45" width="3.73" height="5.7" fill="#1f77b4"/>
<rect x="475.92" y="281.95" width="3.73" height="0.5" fill="#d62728"/>
<rect x="483.38" y="279.75" width="3.73" height="8.4" fill="#1f77b4"/>
<rect x="483.38" y="279.25" width="3.73" height="0.5" fill="#d62728"/>
<rect x="490.84" y="278.55" width="3.73" height="9.6" fill="#1f77b4"/>
<rect x="490.84" y="278.05" width="3.73" height="0.5" fill="#9467bd"/>
<rect x="498.29" y="285.75" width="3.73" height="2.4" fill="#1f77b4"/>
<rect x="505.75" y="285.95" width="3.73" height="2.2" fill="#1f77b4"/>
<rect x="513.21" y="286.85" width="3.73" height="1.3" fill="#1f77b4"/>
<rect x="513.21" y="286.35" width="3.73" height="0.5" fill="#ff7f0e"/>
<rect x="520.67" y="285.35" width="3.73" height="2.8" fill="#1f77b4"/>
<rect x="528.13" y="286.15" width="3.73" height="2" fill="#1f77b4"/>
<rect x="535.58" y="282.25" width="3.73" height="5.9" fill="#1f77b4"/>
<rect x="535.58" y="281.75" width="3.73" height="0.5" fill="#9467bd"/>
<rect x="543.04" y="284.95" width="3.73" height="3.2" fill="#1f77b4"/>
<rect x="550.5" y="283.75" width="3.73" height="4.4" fill="#1f77b4"/>
<rect x="550.5" y="283.45" width="3.73" height="0.3" fill="#d62728"/>
<rect x="550.5" y="283.15" width="3.73" height="0.3" fill="#9467bd"/>
<rect x="557.96" y="285.95" width="3.73" height="2.2" fill="#1f77b4"/>
<rect x="565.42" y="285.45" width="3.73" height="2.7" fill="#1f77b4"/>
<rect x="565.42" y="284.95" width="3.73" height="0.5" fill="#ff7f0e"/>
<rect x="572.87" y="285.95" width="3.73" height="2.2" fill="#1f77b4"/>
<rect x="580.33" y="282.65" width="3.73" height="5.5" fill="#1f77b4"/>
<rect x="580.33" y="282.15" width="3.73" height="0.5" fill="#d62728"/>
<rect x="587.79" y="279.55" width="3.73" height="8.6" fill="#1f77b4"/>
<rect x="587.79" y="279.05" width="3.73" height="0.5" fill="#d62728"/>
<rect x="595.25" y="277.05" width="3.73" height="11.1" fill="#1f77b4"/>
<rect x="602.71" y="284.95" width="3.73" height="3.2" fill="#1f77b4"/>
<rect x="610.16" y="286.25" width="3.73" height="1.9" fill="#1f77b4"/>
<rect x="610.16" y="285.75" width="3.73" height="0.5" fill="#d62728"/>
<path d="M347.4,227.5V288.15M616.1,227.5V288.15" stroke="#000" stroke-width="0.6" fill="none"/>
<path d="M347.1,227.5H616.4M347.1,288.15H616.4" stroke="#000" stroke-width="0.55" fill="none"/>
<text x="342.4" y="290.75" text-anchor="end" font-size="6.9" textLength="19.61" lengthAdjust="spacingAndGlyphs">0.000</text>
<text x="342.4" y="275.59" text-anchor="end" font-size="6.9" textLength="19.61" lengthAdjust="spacingAndGlyphs">0.025</text>
<text x="342.4" y="260.43" text-anchor="end" font-size="6.9" textLength="19.61" lengthAdjust="spacingAndGlyphs">0.050</text>
<text x="342.4" y="245.26" text-anchor="end" font-size="6.9" textLength="19.61" lengthAdjust="spacingAndGlyphs">0.075</text>
<text x="342.4" y="230.1" text-anchor="end" font-size="6.9" textLength="19.61" lengthAdjust="spacingAndGlyphs">0.100</text>
<path d="M344.9,288.15H347.4M344.9,272.99H347.4M344.9,257.83H347.4M344.9,242.66H347.4M344.9,227.5H347.4" stroke="#000" stroke-width="0.55" fill="none"/>
<text x="481.75" y="223.5" text-anchor="middle" font-size="6.9" textLength="25.06" lengthAdjust="spacingAndGlyphs">Glioma</text>
<rect x="26.99" y="358.85" width="3.72" height="2.2" fill="#1f77b4"/>
<rect x="34.45" y="357.75" width="3.72" height="3.3" fill="#1f77b4"/>
<rect x="34.45" y="357.25" width="3.72" height="0.5" fill="#d62728"/>
<rect x="41.9" y="357.15" width="3.72" height="3.9" fill="#1f77b4"/>
<rect x="41.9" y="356.65" width="3.72" height="0.5" fill="#d62728"/>
<rect x="49.36" y="357.75" width="3.72" height="3.3" fill="#1f77b4"/>
<rect x="49.36" y="357.25" width="3.72" height="0.5" fill="#ff7f0e"/>
<rect x="56.82" y="357.75" width="3.72" height="3.3" fill="#1f77b4"/>
<rect x="56.82" y="357.25" width="3.72" height="0.5" fill="#d62728"/>
<rect x="64.28" y="354.85" width="3.72" height="6.2" fill="#1f77b4"/>
<rect x="71.74" y="356.65" width="3.72" height="4.4" fill="#1f77b4"/>
<rect x="79.19" y="357.85" width="3.72" height="3.2" fill="#1f77b4"/>
<rect x="86.65" y="355.95" width="3.72" height="5.1" fill="#1f77b4"/>
<rect x="86.65" y="355.45" width="3.72" height="0.5" fill="#9467bd"/>
<rect x="94.11" y="358.55" width="3.72" height="2.5" fill="#1f77b4"/>
<rect x="94.11" y="358.05" width="3.72" height="0.5" fill="#d62728"/>
<rect x="101.57" y="357.85" width="3.72" height="3.2" fill="#1f77b4"/>
<rect x="109.03" y="358.35" width="3.72" height="2.7" fill="#1f77b4"/>
<rect x="109.03" y="357.85" width="3.72" height="0.5" fill="#d62728"/>
<rect x="116.48" y="356.25" width="3.72" height="4.8" fill="#1f77b4"/>
<rect x="116.48" y="354.45" width="3.72" height="1.8" fill="#ff7f0e"/>
<rect x="123.94" y="358.65" width="3.72" height="2.4" fill="#1f77b4"/>
<rect x="131.4" y="347.55" width="3.72" height="13.5" fill="#1f77b4"/>
<rect x="138.86" y="358.45" width="3.72" height="2.6" fill="#1f77b4"/>
<rect x="146.32" y="351.75" width="3.72" height="9.3" fill="#1f77b4"/>
<rect x="153.77" y="355.35" width="3.72" height="5.7" fill="#1f77b4"/>
<rect x="153.77" y="354.85" width="3.72" height="0.5" fill="#9467bd"/>
<rect x="161.23" y="337.05" width="3.72" height="24" fill="#1f77b4"/>
<rect x="168.69" y="356.65" width="3.72" height="4.4" fill="#1f77b4"/>
<rect x="176.15" y="358.45" width="3.72" height="2.6" fill="#1f77b4"/>
<rect x="183.61" y="358.65" width="3.72" height="2.4" fill="#1f77b4"/>
<rect x="183.61" y="358.35" width="3.72" height="0.3" fill="#ff7f0e"/>
<rect x="183.61" y="358.05" width="3.72" height="0.3" fill="#2ca02c"/>
<rect x="191.06" y="358.85" width="3.72" height="2.2" fill="#1f77b4"/>
<rect x="198.52" y="358.45" width="3.72" height="2.6" fill="#1f77b4"/>
<rect x="205.98" y="358.45" width="3.72" height="2.6" fill="#1f77b4"/>
<rect x="213.44" y="355.95" width="3.72" height="5.1" fill="#1f77b4"/>
<rect x="213.44" y="355.45" width="3.72" height="0.5" fill="#9467bd"/>
<rect x="220.9" y="358.85" width="3.72" height="2.2" fill="#1f77b4"/>
<rect x="228.35" y="351.65" width="3.72" height="9.4" fill="#1f77b4"/>
<rect x="228.35" y="351.15" width="3.72" height="0.5" fill="#9467bd"/>
<rect x="235.81" y="356.75" width="3.72" height="4.3" fill="#1f77b4"/>
<rect x="235.81" y="356.25" width="3.72" height="0.5" fill="#9467bd"/>
<rect x="243.27" y="348.15" width="3.72" height="12.9" fill="#1f77b4"/>
<rect x="250.73" y="357.55" width="3.72" height="3.5" fill="#1f77b4"/>
<rect x="250.73" y="357.05" width="3.72" height="0.5" fill="#d62728"/>
<rect x="258.19" y="357.65" width="3.72" height="3.4" fill="#1f77b4"/>
<rect x="265.64" y="353.25" width="3.72" height="7.8" fill="#1f77b4"/>
<rect x="265.64" y="352.75" width="3.72" height="0.5" fill="#d62728"/>
<rect x="273.1" y="358.95" width="3.72" height="2.1" fill="#1f77b4"/>
<rect x="273.1" y="358.45" width="3.72" height="0.5" fill="#9467bd"/>
<rect x="280.56" y="358.05" width="3.72" height="3" fill="#1f77b4"/>
<rect x="288.02" y="357.35" width="3.72" height="3.7" fill="#1f77b4"/>
<rect x="288.02" y="356.85" width="3.72" height="0.5" fill="#d62728"/>
<path d="M25.5,300.4V361.05M293.6,300.4V361.05" stroke="#000" stroke-width="0.6" fill="none"/>
<path d="M25.2,300.4H293.9M25.2,361.05H293.9" stroke="#000" stroke-width="0.55" fill="none"/>
<text x="19.8" y="363.65" text-anchor="end" font-size="6.9" textLength="20.04" lengthAdjust="spacingAndGlyphs">0.000</text>
<text x="19.8" y="348.49" text-anchor="end" font-size="6.9" textLength="20.04" lengthAdjust="spacingAndGlyphs">0.025</text>
<text x="19.8" y="333.33" text-anchor="end" font-size="6.9" textLength="20.04" lengthAdjust="spacingAndGlyphs">0.050</text>
<text x="19.8" y="318.16" text-anchor="end" font-size="6.9" textLength="20.04" lengthAdjust="spacingAndGlyphs">0.075</text>
<text x="19.8" y="303" text-anchor="end" font-size="6.9" textLength="20.04" lengthAdjust="spacingAndGlyphs">0.100</text>
<path d="M23,361.05H25.5M23,345.89H25.5M23,330.73H25.5M23,315.56H25.5M23,300.4H25.5" stroke="#000" stroke-width="0.55" fill="none"/>
<text x="159.55" y="296.4" text-anchor="middle" font-size="6.9" textLength="81.39" lengthAdjust="spacingAndGlyphs">Head and Neck Cancer</text>
<rect x="349.13" y="358.25" width="3.73" height="2.8" fill="#1f77b4"/>
<rect x="356.59" y="356.65" width="3.73" height="4.4" fill="#1f77b4"/>
<rect x="356.59" y="356.35" width="3.73" height="0.3" fill="#ff7f0e"/>
<rect x="356.59" y="356.05" width="3.73" height="0.3" fill="#d62728"/>
<rect x="364.05" y="359.35" width="3.73" height="1.7" fill="#1f77b4"/>
<rect x="364.05" y="358.85" width="3.73" height="0.5" fill="#d62728"/>
<rect x="371.51" y="357.35" width="3.73" height="3.7" fill="#1f77b4"/>
<rect x="371.51" y="356.85" width="3.73" height="0.5" fill="#ff7f0e"/>
<rect x="378.97" y="356.15" width="3.73" height="4.9" fill="#1f77b4"/>
<rect x="378.97" y="355.65" width="3.73" height="0.5" fill="#d62728"/>
<rect x="386.42" y="354.15" width="3.73" height="6.9" fill="#1f77b4"/>
<rect x="393.88" y="356.85" width="3.73" height="4.2" fill="#1f77b4"/>
<rect x="401.34" y="359.25" width="3.73" height="1.8" fill="#1f77b4"/>
<rect x="408.8" y="355.15" width="3.73" height="5.9" fill="#1f77b4"/>
<rect x="408.8" y="354.65" width="3.73" height="0.5" fill="#9467bd"/>
<rect x="416.26" y="358.25" width="3.73" height="2.8" fill="#1f77b4"/>
<rect x="416.26" y="357.95" width="3.73" height="0.3" fill="#ff7f0e"/>
<rect x="416.26" y="357.65" width="3.73" height="0.3" fill="#d62728"/>
<rect x="423.71" y="358.15" width="3.73" height="2.9" fill="#1f77b4"/>
<rect x="423.71" y="357.65" width="3.73" height="0.5" fill="#9467bd"/>
<rect x="431.17" y="358.75" width="3.73" height="2.3" fill="#1f77b4"/>
<rect x="431.17" y="358.25" width="3.73" height="0.5" fill="#d62728"/>
<rect x="438.63" y="355.15" width="3.73" height="5.9" fill="#1f77b4"/>
<rect x="438.63" y="353.15" width="3.73" height="2" fill="#ff7f0e"/>
<rect x="446.09" y="358.05" width="3.73" height="3" fill="#1f77b4"/>
<rect x="446.09" y="357.75" width="3.73" height="0.3" fill="#ff7f0e"/>
<rect x="446.09" y="357.45" width="3.73" height="0.3" fill="#d62728"/>
<rect x="453.55" y="342.95" width="3.73" height="18.1" fill="#1f77b4"/>
<rect x="461" y="359.25" width="3.73" height="1.8" fill="#1f77b4"/>
<rect x="468.46" y="354.65" width="3.73" height="6.4" fill="#1f77b4"/>
<rect x="468.46" y="354.15" width="3.73" height="0.5" fill="#ff7f0e"/>
<rect x="475.92" y="355.95" width="3.73" height="5.1" fill="#1f77b4"/>
<rect x="475.92" y="355.45" width="3.73" height="0.5" fill="#9467bd"/>
<rect x="483.38" y="351.95" width="3.73" height="9.1" fill="#1f77b4"/>
<rect x="490.84" y="356.65" width="3.73" height="4.4" fill="#1f77b4"/>
<rect x="490.84" y="356.35" width="3.73" height="0.3" fill="#d62728"/>
<rect x="490.84" y="356.05" width="3.73" height="0.3" fill="#9467bd"/>
<rect x="498.29" y="358.05" width="3.73" height="3" fill="#1f77b4"/>
<rect x="505.75" y="358.95" width="3.73" height="2.1" fill="#1f77b4"/>
<rect x="505.75" y="358.45" width="3.73" height="0.5" fill="#ff7f0e"/>
<rect x="513.21" y="358.45" width="3.73" height="2.6" fill="#1f77b4"/>
<rect x="520.67" y="357.15" width="3.73" height="3.9" fill="#1f77b4"/>
<rect x="520.67" y="356.65" width="3.73" height="0.5" fill="#d62728"/>
<rect x="528.13" y="359.05" width="3.73" height="2" fill="#1f77b4"/>
<rect x="535.58" y="356.65" width="3.73" height="4.4" fill="#1f77b4"/>
<rect x="543.04" y="356.65" width="3.73" height="4.4" fill="#1f77b4"/>
<rect x="550.5" y="357.55" width="3.73" height="3.5" fill="#1f77b4"/>
<rect x="550.5" y="357.05" width="3.73" height="0.5" fill="#9467bd"/>
<rect x="557.96" y="359.25" width="3.73" height="1.8" fill="#1f77b4"/>
<rect x="565.42" y="358.05" width="3.73" height="3" fill="#1f77b4"/>
<rect x="572.87" y="358.05" width="3.73" height="3" fill="#1f77b4"/>
<rect x="580.33" y="356.65" width="3.73" height="4.4" fill="#1f77b4"/>
<rect x="587.79" y="352.55" width="3.73" height="8.5" fill="#1f77b4"/>
<rect x="587.79" y="351.95" width="3.73" height="0.6" fill="#ff7f0e"/>
<rect x="587.79" y="351.15" width="3.73" height="0.8" fill="#2ca02c"/>
<rect x="595.25" y="358.95" width="3.73" height="2.1" fill="#1f77b4"/>
<rect x="595.25" y="358.45" width="3.73" height="0.5" fill="#9467bd"/>
<rect x="602.71" y="357.05" width="3.73" height="4" fill="#1f77b4"/>
<rect x="610.16" y="358.45" width="3.73" height="2.6" fill="#1f77b4"/>
<rect x="610.16" y="358.15" width="3.73" height="0.3" fill="#ff7f0e"/>
<rect x="610.16" y="357.85" width="3.73" height="0.3" fill="#d62728"/>
<path d="M347.4,300.4V361.05M616.1,300.4V361.05" stroke="#000" stroke-width="0.6" fill="none"/>
<path d="M347.1,300.4H616.4M347.1,361.05H616.4" stroke="#000" stroke-width="0.55" fill="none"/>
<text x="342.4" y="363.65" text-anchor="end" font-size="6.9" textLength="19.61" lengthAdjust="spacingAndGlyphs">0.000</text>
<text x="342.4" y="348.49" text-anchor="end" font-size="6.9" textLength="19.61" lengthAdjust="spacingAndGlyphs">0.025</text>
<text x="342.4" y="333.33" text-anchor="end" font-size="6.9" textLength="19.61" lengthAdjust="spacingAndGlyphs">0.050</text>
<text x="342.4" y="318.16" text-anchor="end" font-size="6.9" textLength="19.61" lengthAdjust="spacingAndGlyphs">0.075</text>
<text x="342.4" y="303" text-anchor="end" font-size="6.9" textLength="19.61" lengthAdjust="spacingAndGlyphs">0.100</text>
<path d="M344.9,361.05H347.4M344.9,345.89H347.4M344.9,330.73H347.4M344.9,315.56H347.4M344.9,300.4H347.4" stroke="#000" stroke-width="0.55" fill="none"/>
<text x="481.75" y="296.4" text-anchor="middle" font-size="6.9" textLength="76.12" lengthAdjust="spacingAndGlyphs">Renal Cell Carcinoma</text>
<rect x="26.99" y="431.45" width="3.72" height="2.5" fill="#1f77b4"/>
<rect x="34.45" y="429.55" width="3.72" height="4.4" fill="#1f77b4"/>
<rect x="34.45" y="429.05" width="3.72" height="0.5" fill="#ff7f0e"/>
<rect x="41.9" y="432.05" width="3.72" height="1.9" fill="#1f77b4"/>
<rect x="49.36" y="429.55" width="3.72" height="4.4" fill="#1f77b4"/>
<rect x="49.36" y="429.05" width="3.72" height="0.5" fill="#ff7f0e"/>
<rect x="56.82" y="430.35" width="3.72" height="3.6" fill="#1f77b4"/>
<rect x="56.82" y="429.85" width="3.72" height="0.5" fill="#ff7f0e"/>
<rect x="64.28" y="428.85" width="3.72" height="5.1" fill="#1f77b4"/>
<rect x="71.74" y="431.45" width="3.72" height="2.5" fill="#1f77b4"/>
<rect x="79.19" y="432.25" width="3.72" height="1.7" fill="#1f77b4"/>
<rect x="86.65" y="430.45" width="3.72" height="3.5" fill="#1f77b4"/>
<rect x="94.11" y="431.75" width="3.72" height="2.2" fill="#1f77b4"/>
<rect x="94.11" y="431.25" width="3.72" height="0.5" fill="#ff7f0e"/>
<rect x="101.57" y="432.05" width="3.72" height="1.9" fill="#1f77b4"/>
<rect x="109.03" y="429.95" width="3.72" height="4" fill="#1f77b4"/>
<rect x="109.03" y="429.45" width="3.72" height="0.5" fill="#ff7f0e"/>
<rect x="116.48" y="428.55" width="3.72" height="5.4" fill="#1f77b4"/>
<rect x="116.48" y="428.05" width="3.72" height="0.5" fill="#ff7f0e"/>
<rect x="123.94" y="431.75" width="3.72" height="2.2" fill="#1f77b4"/>
<rect x="123.94" y="431.25" width="3.72" height="0.5" fill="#ff7f0e"/>
<rect x="131.4" y="421.95" width="3.72" height="12" fill="#1f77b4"/>
<rect x="138.86" y="431.25" width="3.72" height="2.7" fill="#1f77b4"/>
<rect x="146.32" y="424.55" width="3.72" height="9.4" fill="#1f77b4"/>
<rect x="153.77" y="428.55" width="3.72" height="5.4" fill="#1f77b4"/>
<rect x="153.77" y="428.05" width="3.72" height="0.5" fill="#9467bd"/>
<rect x="161.23" y="427.95" width="3.72" height="6" fill="#1f77b4"/>
<rect x="161.23" y="427.45" width="3.72" height="0.5" fill="#ff7f0e"/>
<rect x="168.69" y="428.35" width="3.72" height="5.6" fill="#1f77b4"/>
<rect x="168.69" y="427.85" width="3.72" height="0.5" fill="#ff7f0e"/>
<rect x="176.15" y="428.05" width="3.72" height="5.9" fill="#1f77b4"/>
<rect x="183.61" y="419.95" width="3.72" height="14" fill="#1f77b4"/>
<rect x="183.61" y="419.65" width="3.72" height="0.3" fill="#ff7f0e"/>
<rect x="183.61" y="419.35" width="3.72" height="0.3" fill="#d62728"/>
<rect x="191.06" y="432.25" width="3.72" height="1.7" fill="#1f77b4"/>
<rect x="198.52" y="430.65" width="3.72" height="3.3" fill="#1f77b4"/>
<rect x="205.98" y="431.45" width="3.72" height="2.5" fill="#1f77b4"/>
<rect x="213.44" y="430.05" width="3.72" height="3.9" fill="#1f77b4"/>
<rect x="220.9" y="430.05" width="3.72" height="3.9" fill="#1f77b4"/>
<rect x="228.35" y="429.25" width="3.72" height="4.7" fill="#1f77b4"/>
<rect x="235.81" y="432.25" width="3.72" height="1.7" fill="#1f77b4"/>
<rect x="243.27" y="431.75" width="3.72" height="2.2" fill="#1f77b4"/>
<rect x="243.27" y="431.25" width="3.72" height="0.5" fill="#ff7f0e"/>
<rect x="250.73" y="431.45" width="3.72" height="2.5" fill="#1f77b4"/>
<rect x="258.19" y="427.15" width="3.72" height="6.8" fill="#1f77b4"/>
<rect x="258.19" y="426.65" width="3.72" height="0.5" fill="#ff7f0e"/>
<rect x="265.64" y="424.75" width="3.72" height="9.2" fill="#1f77b4"/>
<rect x="265.64" y="424.45" width="3.72" height="0.3" fill="#ff7f0e"/>
<rect x="265.64" y="424.15" width="3.72" height="0.3" fill="#d62728"/>
<rect x="273.1" y="432.05" width="3.72" height="1.9" fill="#1f77b4"/>
<rect x="280.56" y="431.05" width="3.72" height="2.9" fill="#1f77b4"/>
<rect x="288.02" y="429.75" width="3.72" height="4.2" fill="#1f77b4"/>
<rect x="288.02" y="429.25" width="3.72" height="0.5" fill="#d62728"/>
<path d="M25.5,373.3V433.95M293.6,373.3V433.95" stroke="#000" stroke-width="0.6" fill="none"/>
<path d="M25.2,373.3H293.9M25.2,433.95H293.9" stroke="#000" stroke-width="0.55" fill="none"/>
<text x="19.8" y="436.55" text-anchor="end" font-size="6.9" textLength="20.04" lengthAdjust="spacingAndGlyphs">0.000</text>
<text x="19.8" y="421.39" text-anchor="end" font-size="6.9" textLength="20.04" lengthAdjust="spacingAndGlyphs">0.025</text>
<text x="19.8" y="406.23" text-anchor="end" font-size="6.9" textLength="20.04" lengthAdjust="spacingAndGlyphs">0.050</text>
<text x="19.8" y="391.06" text-anchor="end" font-size="6.9" textLength="20.04" lengthAdjust="spacingAndGlyphs">0.075</text>
<text x="19.8" y="375.9" text-anchor="end" font-size="6.9" textLength="20.04" lengthAdjust="spacingAndGlyphs">0.100</text>
<path d="M23,433.95H25.5M23,418.79H25.5M23,403.62H25.5M23,388.46H25.5M23,373.3H25.5" stroke="#000" stroke-width="0.55" fill="none"/>
<text x="159.55" y="369.3" text-anchor="middle" font-size="6.9" textLength="34.54" lengthAdjust="spacingAndGlyphs">Leukemia</text>
<rect x="349.13" y="432.15" width="3.73" height="1.8" fill="#1f77b4"/>
<rect x="356.59" y="431.95" width="3.73" height="2" fill="#1f77b4"/>
<rect x="364.05" y="432.25" width="3.73" height="1.7" fill="#1f77b4"/>
<rect x="364.05" y="431.75" width="3.73" height="0.5" fill="#d62728"/>
<rect x="371.51" y="431.45" width="3.73" height="2.5" fill="#1f77b4"/>
<rect x="371.51" y="430.95" width="3.73" height="0.5" fill="#ff7f0e"/>
<rect x="378.97" y="427.75" width="3.73" height="6.2" fill="#1f77b4"/>
<rect x="378.97" y="427.25" width="3.73" height="0.5" fill="#d62728"/>
<rect x="386.42" y="426.85" width="3.73" height="7.1" fill="#1f77b4"/>
<rect x="393.88" y="431.45" width="3.73" height="2.5" fill="#1f77b4"/>
<rect x="393.88" y="430.95" width="3.73" height="0.5" fill="#ff7f0e"/>
<rect x="401.34" y="432.65" width="3.73" height="1.3" fill="#1f77b4"/>
<rect x="401.34" y="432.15" width="3.73" height="0.5" fill="#ff7f0e"/>
<rect x="408.8" y="430.85" width="3.73" height="3.1" fill="#1f77b4"/>
<rect x="408.8" y="430.35" width="3.73" height="0.5" fill="#9467bd"/>
<rect x="416.26" y="432.25" width="3.73" height="1.7" fill="#1f77b4"/>
<rect x="416.26" y="431.75" width="3.73" height="0.5" fill="#d62728"/>
<rect x="423.71" y="432.15" width="3.73" height="1.8" fill="#1f77b4"/>
<rect x="431.17" y="431.85" width="3.73" height="2.1" fill="#1f77b4"/>
<rect x="431.17" y="431.35" width="3.73" height="0.5" fill="#d62728"/>
<rect x="438.63" y="429.75" width="3.73" height="4.2" fill="#1f77b4"/>
<rect x="438.63" y="428.75" width="3.73" height="1" fill="#ff7f0e"/>
<rect x="446.09" y="431.75" width="3.73" height="2.2" fill="#1f77b4"/>
<rect x="453.55" y="420.05" width="3.73" height="13.9" fill="#1f77b4"/>
<rect x="461" y="431.95" width="3.73" height="2" fill="#1f77b4"/>
<rect x="468.46" y="416.85" width="3.73" height="17.1" fill="#1f77b4"/>
<rect x="475.92" y="430.25" width="3.73" height="3.7" fill="#1f77b4"/>
<rect x="475.92" y="429.75" width="3.73" height="0.5" fill="#d62728"/>
<rect x="483.38" y="425.65" width="3.73" height="8.3" fill="#1f77b4"/>
<rect x="490.84" y="428.75" width="3.73" height="5.2" fill="#1f77b4"/>
<rect x="490.84" y="428.45" width="3.73" height="0.3" fill="#ff7f0e"/>
<rect x="490.84" y="428.15" width="3.73" height="0.3" fill="#d62728"/>
<rect x="498.29" y="423.85" width="3.73" height="10.1" fill="#1f77b4"/>
<rect x="505.75" y="430.95" width="3.73" height="3" fill="#1f77b4"/>
<rect x="513.21" y="432.45" width="3.73" height="1.5" fill="#1f77b4"/>
<rect x="513.21" y="431.95" width="3.73" height="0.5" fill="#ff7f0e"/>
<rect x="520.67" y="429.95" width="3.73" height="4" fill="#1f77b4"/>
<rect x="528.13" y="431.95" width="3.73" height="2" fill="#1f77b4"/>
<rect x="535.58" y="429.35" width="3.73" height="4.6" fill="#1f77b4"/>
<rect x="535.58" y="429.05" width="3.73" height="0.3" fill="#d62728"/>
<rect x="535.58" y="428.75" width="3.73" height="0.3" fill="#9467bd"/>
<rect x="543.04" y="430.75" width="3.73" height="3.2" fill="#1f77b4"/>
<rect x="550.5" y="429.15" width="3.73" height="4.8" fill="#1f77b4"/>
<rect x="557.96" y="431.35" width="3.73" height="2.6" fill="#1f77b4"/>
<rect x="565.42" y="431.55" width="3.73" height="2.4" fill="#1f77b4"/>
<rect x="565.42" y="431.25" width="3.73" height="0.3" fill="#ff7f0e"/>
<rect x="565.42" y="430.95" width="3.73" height="0.3" fill="#2ca02c"/>
<rect x="572.87" y="431.75" width="3.73" height="2.2" fill="#1f77b4"/>
<rect x="580.33" y="430.75" width="3.73" height="3.2" fill="#1f77b4"/>
<rect x="587.79" y="425.95" width="3.73" height="8" fill="#1f77b4"/>
<rect x="587.79" y="425.15" width="3.73" height="0.8" fill="#ff7f0e"/>
<rect x="587.79" y="424.65" width="3.73" height="0.5" fill="#d62728"/>
<rect x="595.25" y="431.25" width="3.73" height="2.7" fill="#1f77b4"/>
<rect x="595.25" y="430.75" width="3.73" height="0.5" fill="#9467bd"/>
<rect x="602.71" y="430.95" width="3.73" height="3" fill="#1f77b4"/>
<rect x="610.16" y="432.35" width="3.73" height="1.6" fill="#1f77b4"/>
<rect x="610.16" y="432.05" width="3.73" height="0.3" fill="#ff7f0e"/>
<rect x="610.16" y="431.75" width="3.73" height="0.3" fill="#d62728"/>
<path d="M347.4,373.3V433.95M616.1,373.3V433.95" stroke="#000" stroke-width="0.6" fill="none"/>
<path d="M347.1,373.3H616.4M347.1,433.95H616.4" stroke="#000" stroke-width="0.55" fill="none"/>
<text x="342.4" y="436.55" text-anchor="end" font-size="6.9" textLength="19.61" lengthAdjust="spacingAndGlyphs">0.000</text>
<text x="342.4" y="421.39" text-anchor="end" font-size="6.9" textLength="19.61" lengthAdjust="spacingAndGlyphs">0.025</text>
<text x="342.4" y="406.23" text-anchor="end" font-size="6.9" textLength="19.61" lengthAdjust="spacingAndGlyphs">0.050</text>
<text x="342.4" y="391.06" text-anchor="end" font-size="6.9" textLength="19.61" lengthAdjust="spacingAndGlyphs">0.075</text>
<text x="342.4" y="375.9" text-anchor="end" font-size="6.9" textLength="19.61" lengthAdjust="spacingAndGlyphs">0.100</text>
<path d="M344.9,433.95H347.4M344.9,418.79H347.4M344.9,403.62H347.4M344.9,388.46H347.4M344.9,373.3H347.4" stroke="#000" stroke-width="0.55" fill="none"/>
<text x="481.75" y="369.3" text-anchor="middle" font-size="6.9" textLength="87.95" lengthAdjust="spacingAndGlyphs">Non-Hodgkin Lymphoma</text>
<rect x="26.99" y="503.55" width="3.72" height="3.3" fill="#1f77b4"/>
<rect x="26.99" y="503.05" width="3.72" height="0.5" fill="#d62728"/>
<rect x="34.45" y="502.25" width="3.72" height="4.6" fill="#1f77b4"/>
<rect x="34.45" y="501.95" width="3.72" height="0.3" fill="#d62728"/>
<rect x="34.45" y="501.65" width="3.72" height="0.3" fill="#9467bd"/>
<rect x="41.9" y="502.35" width="3.72" height="4.5" fill="#1f77b4"/>
<rect x="41.9" y="501.85" width="3.72" height="0.5" fill="#d62728"/>
<rect x="49.36" y="502.75" width="3.72" height="4.1" fill="#1f77b4"/>
<rect x="49.36" y="502.25" width="3.72" height="0.5" fill="#d62728"/>
<rect x="56.82" y="500.25" width="3.72" height="6.6" fill="#1f77b4"/>
<rect x="56.82" y="499.75" width="3.72" height="0.5" fill="#9467bd"/>
<rect x="64.28" y="499.55" width="3.72" height="7.3" fill="#1f77b4"/>
<rect x="71.74" y="501.65" width="3.72" height="5.2" fill="#1f77b4"/>
<rect x="79.19" y="504.45" width="3.72" height="2.4" fill="#1f77b4"/>
<rect x="86.65" y="500.45" width="3.72" height="6.4" fill="#1f77b4"/>
<rect x="86.65" y="499.95" width="3.72" height="0.5" fill="#9467bd"/>
<rect x="94.11" y="504.35" width="3.72" height="2.5" fill="#1f77b4"/>
<rect x="94.11" y="503.85" width="3.72" height="0.5" fill="#d62728"/>
<rect x="101.57" y="503.35" width="3.72" height="3.5" fill="#1f77b4"/>
<rect x="101.57" y="502.85" width="3.72" height="0.5" fill="#9467bd"/>
<rect x="109.03" y="503.35" width="3.72" height="3.5" fill="#1f77b4"/>
<rect x="109.03" y="502.85" width="3.72" height="0.5" fill="#d62728"/>
<rect x="116.48" y="500.75" width="3.72" height="6.1" fill="#1f77b4"/>
<rect x="116.48" y="497.55" width="3.72" height="3.2" fill="#ff7f0e"/>
<rect x="116.48" y="496.75" width="3.72" height="0.8" fill="#9467bd"/>
<rect x="123.94" y="503.45" width="3.72" height="3.4" fill="#1f77b4"/>
<rect x="123.94" y="503.15" width="3.72" height="0.3" fill="#ff7f0e"/>
<rect x="123.94" y="502.85" width="3.72" height="0.3" fill="#d62728"/>
<rect x="131.4" y="496.55" width="3.72" height="10.3" fill="#1f77b4"/>
<rect x="138.86" y="503.85" width="3.72" height="3" fill="#1f77b4"/>
<rect x="146.32" y="499.45" width="3.72" height="7.4" fill="#1f77b4"/>
<rect x="146.32" y="498.95" width="3.72" height="0.5" fill="#ff7f0e"/>
<rect x="153.77" y="502.15" width="3.72" height="4.7" fill="#1f77b4"/>
<rect x="153.77" y="501.65" width="3.72" height="0.5" fill="#9467bd"/>
<rect x="161.23" y="494.85" width="3.72" height="12" fill="#1f77b4"/>
<rect x="161.23" y="494.35" width="3.72" height="0.5" fill="#d62728"/>
<rect x="168.69" y="502.95" width="3.72" height="3.9" fill="#1f77b4"/>
<rect x="168.69" y="502.45" width="3.72" height="0.5" fill="#d62728"/>
<rect x="176.15" y="503.25" width="3.72" height="3.6" fill="#1f77b4"/>
<rect x="183.61" y="504.05" width="3.72" height="2.8" fill="#1f77b4"/>
<rect x="183.61" y="503.75" width="3.72" height="0.3" fill="#ff7f0e"/>
<rect x="183.61" y="503.45" width="3.72" height="0.3" fill="#d62728"/>
<rect x="191.06" y="502.05" width="3.72" height="4.8" fill="#1f77b4"/>
<rect x="198.52" y="503.65" width="3.72" height="3.2" fill="#1f77b4"/>
<rect x="205.98" y="503.65" width="3.72" height="3.2" fill="#1f77b4"/>
<rect x="213.44" y="501.85" width="3.72" height="5" fill="#1f77b4"/>
<rect x="213.44" y="501.55" width="3.72" height="0.3" fill="#d62728"/>
<rect x="213.44" y="501.25" width="3.72" height="0.3" fill="#9467bd"/>
<rect x="220.9" y="503.25" width="3.72" height="3.6" fill="#1f77b4"/>
<rect x="228.35" y="500.95" width="3.72" height="5.9" fill="#1f77b4"/>
<rect x="228.35" y="499.35" width="3.72" height="1.6" fill="#9467bd"/>
<rect x="235.81" y="502.95" width="3.72" height="3.9" fill="#1f77b4"/>
<rect x="235.81" y="502.45" width="3.72" height="0.5" fill="#9467bd"/>
<rect x="243.27" y="500.95" width="3.72" height="5.9" fill="#1f77b4"/>
<rect x="243.27" y="500.45" width="3.72" height="0.5" fill="#d62728"/>
<rect x="250.73" y="482.25" width="3.72" height="24.6" fill="#1f77b4"/>
<rect x="250.73" y="481.75" width="3.72" height="0.5" fill="#d62728"/>
<rect x="258.19" y="502.85" width="3.72" height="4" fill="#1f77b4"/>
<rect x="265.64" y="498.55" width="3.72" height="8.3" fill="#1f77b4"/>
<rect x="265.64" y="498.25" width="3.72" height="0.3" fill="#ff7f0e"/>
<rect x="265.64" y="497.95" width="3.72" height="0.3" fill="#d62728"/>
<rect x="273.1" y="504.55" width="3.72" height="2.3" fill="#1f77b4"/>
<rect x="273.1" y="504.05" width="3.72" height="0.5" fill="#9467bd"/>
<rect x="280.56" y="502.95" width="3.72" height="3.9" fill="#1f77b4"/>
<rect x="280.56" y="502.45" width="3.72" height="0.5" fill="#9467bd"/>
<rect x="288.02" y="503.35" width="3.72" height="3.5" fill="#1f77b4"/>
<rect x="288.02" y="502.85" width="3.72" height="0.5" fill="#d62728"/>
<path d="M25.5,446.2V506.85M293.6,446.2V506.85" stroke="#000" stroke-width="0.6" fill="none"/>
<path d="M25.2,446.2H293.9M25.2,506.85H293.9" stroke="#000" stroke-width="0.55" fill="none"/>
<text x="19.8" y="509.45" text-anchor="end" font-size="6.9" textLength="20.04" lengthAdjust="spacingAndGlyphs">0.000</text>
<text x="19.8" y="494.29" text-anchor="end" font-size="6.9" textLength="20.04" lengthAdjust="spacingAndGlyphs">0.025</text>
<text x="19.8" y="479.13" text-anchor="end" font-size="6.9" textLength="20.04" lengthAdjust="spacingAndGlyphs">0.050</text>
<text x="19.8" y="463.96" text-anchor="end" font-size="6.9" textLength="20.04" lengthAdjust="spacingAndGlyphs">0.075</text>
<text x="19.8" y="448.8" text-anchor="end" font-size="6.9" textLength="20.04" lengthAdjust="spacingAndGlyphs">0.100</text>
<path d="M23,506.85H25.5M23,491.69H25.5M23,476.53H25.5M23,461.36H25.5M23,446.2H25.5" stroke="#000" stroke-width="0.55" fill="none"/>
<text x="159.55" y="442.2" text-anchor="middle" font-size="6.9" textLength="98.94" lengthAdjust="spacingAndGlyphs">Non-Small Cell Lung Cancer</text>
<rect x="349.13" y="503.65" width="3.73" height="3.2" fill="#1f77b4"/>
<rect x="356.59" y="502.65" width="3.73" height="4.2" fill="#1f77b4"/>
<rect x="364.05" y="505.05" width="3.73" height="1.8" fill="#1f77b4"/>
<rect x="371.51" y="501.05" width="3.73" height="5.8" fill="#1f77b4"/>
<rect x="371.51" y="500.75" width="3.73" height="0.3" fill="#d62728"/>
<rect x="371.51" y="500.45" width="3.73" height="0.3" fill="#9467bd"/>
<rect x="378.97" y="502.85" width="3.73" height="4" fill="#1f77b4"/>
<rect x="386.42" y="500.45" width="3.73" height="6.4" fill="#1f77b4"/>
<rect x="393.88" y="505.55" width="3.73" height="1.3" fill="#1f77b4"/>
<rect x="393.88" y="505.05" width="3.73" height="0.5" fill="#ff7f0e"/>
<rect x="401.34" y="501.65" width="3.73" height="5.2" fill="#1f77b4"/>
<rect x="408.8" y="502.35" width="3.73" height="4.5" fill="#1f77b4"/>
<rect x="408.8" y="501.85" width="3.73" height="0.5" fill="#9467bd"/>
<rect x="416.26" y="488.95" width="3.73" height="17.9" fill="#1f77b4"/>
<rect x="416.26" y="488.65" width="3.73" height="0.3" fill="#d62728"/>
<rect x="416.26" y="488.35" width="3.73" height="0.3" fill="#9467bd"/>
<rect x="423.71" y="504.35" width="3.73" height="2.5" fill="#1f77b4"/>
<rect x="423.71" y="503.85" width="3.73" height="0.5" fill="#9467bd"/>
<rect x="431.17" y="503.85" width="3.73" height="3" fill="#1f77b4"/>
<rect x="431.17" y="503.55" width="3.73" height="0.3" fill="#ff7f0e"/>
<rect x="431.17" y="503.25" width="3.73" height="0.3" fill="#d62728"/>
<rect x="438.63" y="499.95" width="3.73" height="6.9" fill="#1f77b4"/>
<rect x="438.63" y="498.55" width="3.73" height="1.4" fill="#ff7f0e"/>
<rect x="446.09" y="503.55" width="3.73" height="3.3" fill="#1f77b4"/>
<rect x="446.09" y="503.05" width="3.73" height="0.5" fill="#ff7f0e"/>
<rect x="453.55" y="490.75" width="3.73" height="16.1" fill="#1f77b4"/>
<rect x="461" y="504.85" width="3.73" height="2" fill="#1f77b4"/>
<rect x="468.46" y="496.75" width="3.73" height="10.1" fill="#1f77b4"/>
<rect x="475.92" y="497.45" width="3.73" height="9.4" fill="#1f77b4"/>
<rect x="475.92" y="496.95" width="3.73" height="0.5" fill="#9467bd"/>
<rect x="483.38" y="498.55" width="3.73" height="8.3" fill="#1f77b4"/>
<rect x="490.84" y="500.05" width="3.73" height="6.8" fill="#1f77b4"/>
<rect x="490.84" y="499.55" width="3.73" height="0.5" fill="#9467bd"/>
<rect x="498.29" y="503.85" width="3.73" height="3" fill="#1f77b4"/>
<rect x="505.75" y="504.95" width="3.73" height="1.9" fill="#1f77b4"/>
<rect x="505.75" y="504.45" width="3.73" height="0.5" fill="#ff7f0e"/>
<rect x="513.21" y="503.85" width="3.73" height="3" fill="#1f77b4"/>
<rect x="520.67" y="504.45" width="3.73" height="2.4" fill="#1f77b4"/>
<rect x="528.13" y="504.85" width="3.73" height="2" fill="#1f77b4"/>
<rect x="535.58" y="503.25" width="3.73" height="3.6" fill="#1f77b4"/>
<rect x="543.04" y="503.25" width="3.73" height="3.6" fill="#1f77b4"/>
<rect x="550.5" y="503.75" width="3.73" height="3.1" fill="#1f77b4"/>
<rect x="550.5" y="503.25" width="3.73" height="0.5" fill="#9467bd"/>
<rect x="557.96" y="503.65" width="3.73" height="3.2" fill="#1f77b4"/>
<rect x="565.42" y="502.85" width="3.73" height="4" fill="#1f77b4"/>
<rect x="572.87" y="504.65" width="3.73" height="2.2" fill="#1f77b4"/>
<rect x="572.87" y="504.35" width="3.73" height="0.3" fill="#ff7f0e"/>
<rect x="572.87" y="504.05" width="3.73" height="0.3" fill="#d62728"/>
<rect x="580.33" y="502.75" width="3.73" height="4.1" fill="#1f77b4"/>
<rect x="580.33" y="502.25" width="3.73" height="0.5" fill="#ff7f0e"/>
<rect x="587.79" y="501.85" width="3.73" height="5" fill="#1f77b4"/>
<rect x="587.79" y="501.55" width="3.73" height="0.3" fill="#ff7f0e"/>
<rect x="587.79" y="501.25" width="3.73" height="0.3" fill="#d62728"/>
<rect x="595.25" y="504.85" width="3.73" height="2" fill="#1f77b4"/>
<rect x="602.71" y="502.75" width="3.73" height="4.1" fill="#1f77b4"/>
<rect x="602.71" y="502.25" width="3.73" height="0.5" fill="#9467bd"/>
<rect x="610.16" y="504.55" width="3.73" height="2.3" fill="#1f77b4"/>
<rect x="610.16" y="504.05" width="3.73" height="0.5" fill="#d62728"/>
<path d="M347.4,446.2V506.85M616.1,446.2V506.85" stroke="#000" stroke-width="0.6" fill="none"/>
<path d="M347.1,446.2H616.4M347.1,506.85H616.4" stroke="#000" stroke-width="0.55" fill="none"/>
<text x="342.4" y="509.45" text-anchor="end" font-size="6.9" textLength="19.61" lengthAdjust="spacingAndGlyphs">0.000</text>
<text x="342.4" y="494.29" text-anchor="end" font-size="6.9" textLength="19.61" lengthAdjust="spacingAndGlyphs">0.025</text>
<text x="342.4" y="479.13" text-anchor="end" font-size="6.9" textLength="19.61" lengthAdjust="spacingAndGlyphs">0.050</text>
<text x="342.4" y="463.96" text-anchor="end" font-size="6.9" textLength="19.61" lengthAdjust="spacingAndGlyphs">0.075</text>
<text x="342.4" y="448.8" text-anchor="end" font-size="6.9" textLength="19.61" lengthAdjust="spacingAndGlyphs">0.100</text>
<path d="M344.9,506.85H347.4M344.9,491.69H347.4M344.9,476.53H347.4M344.9,461.36H347.4M344.9,446.2H347.4" stroke="#000" stroke-width="0.55" fill="none"/>
<text x="481.75" y="442.2" text-anchor="middle" font-size="6.9" textLength="49.75" lengthAdjust="spacingAndGlyphs">Mesothelioma</text>
<rect x="26.99" y="577.45" width="3.72" height="2.3" fill="#1f77b4"/>
<rect x="34.45" y="573.95" width="3.72" height="5.8" fill="#1f77b4"/>
<rect x="34.45" y="573.65" width="3.72" height="0.3" fill="#ff7f0e"/>
<rect x="34.45" y="573.35" width="3.72" height="0.3" fill="#d62728"/>
<rect x="41.9" y="578.05" width="3.72" height="1.7" fill="#1f77b4"/>
<rect x="49.36" y="576.35" width="3.72" height="3.4" fill="#1f77b4"/>
<rect x="49.36" y="575.85" width="3.72" height="0.5" fill="#d62728"/>
<rect x="56.82" y="575.45" width="3.72" height="4.3" fill="#1f77b4"/>
<rect x="64.28" y="573.85" width="3.72" height="5.9" fill="#1f77b4"/>
<rect x="71.74" y="576.35" width="3.72" height="3.4" fill="#1f77b4"/>
<rect x="71.74" y="575.85" width="3.72" height="0.5" fill="#d62728"/>
<rect x="79.19" y="578.05" width="3.72" height="1.7" fill="#1f77b4"/>
<rect x="86.65" y="576.95" width="3.72" height="2.8" fill="#1f77b4"/>
<rect x="86.65" y="576.45" width="3.72" height="0.5" fill="#9467bd"/>
<rect x="94.11" y="577.35" width="3.72" height="2.4" fill="#1f77b4"/>
<rect x="94.11" y="576.85" width="3.72" height="0.5" fill="#d62728"/>
<rect x="101.57" y="577.35" width="3.72" height="2.4" fill="#1f77b4"/>
<rect x="101.57" y="576.85" width="3.72" height="0.5" fill="#9467bd"/>
<rect x="109.03" y="577.35" width="3.72" height="2.4" fill="#1f77b4"/>
<rect x="109.03" y="576.85" width="3.72" height="0.5" fill="#d62728"/>
<rect x="116.48" y="550.05" width="3.72" height="29.7" fill="#1f77b4"/>
<rect x="116.48" y="549.25" width="3.72" height="0.8" fill="#d62728"/>
<rect x="116.48" y="548.25" width="3.72" height="1" fill="#9467bd"/>
<rect x="123.94" y="563.85" width="3.72" height="15.9" fill="#1f77b4"/>
<rect x="123.94" y="563.35" width="3.72" height="0.5" fill="#d62728"/>
<rect x="131.4" y="554.45" width="3.72" height="25.3" fill="#1f77b4"/>
<rect x="131.4" y="553.95" width="3.72" height="0.5" fill="#9467bd"/>
<rect x="138.86" y="576.65" width="3.72" height="3.1" fill="#1f77b4"/>
<rect x="146.32" y="570.95" width="3.72" height="8.8" fill="#1f77b4"/>
<rect x="153.77" y="575.15" width="3.72" height="4.6" fill="#1f77b4"/>
<rect x="153.77" y="574.65" width="3.72" height="0.5" fill="#9467bd"/>
<rect x="161.23" y="574.05" width="3.72" height="5.7" fill="#1f77b4"/>
<rect x="168.69" y="575.55" width="3.72" height="4.2" fill="#1f77b4"/>
<rect x="168.69" y="575.05" width="3.72" height="0.5" fill="#9467bd"/>
<rect x="176.15" y="577.25" width="3.72" height="2.5" fill="#1f77b4"/>
<rect x="176.15" y="576.95" width="3.72" height="0.3" fill="#ff7f0e"/>
<rect x="176.15" y="576.65" width="3.72" height="0.3" fill="#d62728"/>
<rect x="183.61" y="577.55" width="3.72" height="2.2" fill="#1f77b4"/>
<rect x="183.61" y="577.05" width="3.72" height="0.5" fill="#d62728"/>
<rect x="191.06" y="575.65" width="3.72" height="4.1" fill="#1f77b4"/>
<rect x="198.52" y="577.05" width="3.72" height="2.7" fill="#1f77b4"/>
<rect x="205.98" y="577.95" width="3.72" height="1.8" fill="#1f77b4"/>
<rect x="205.98" y="577.45" width="3.72" height="0.5" fill="#9467bd"/>
<rect x="213.44" y="575.55" width="3.72" height="4.2" fill="#1f77b4"/>
<rect x="213.44" y="575.05" width="3.72" height="0.5" fill="#9467bd"/>
<rect x="220.9" y="576.85" width="3.72" height="2.9" fill="#1f77b4"/>
<rect x="228.35" y="576.15" width="3.72" height="3.6" fill="#1f77b4"/>
<rect x="228.35" y="575.65" width="3.72" height="0.5" fill="#9467bd"/>
<rect x="235.81" y="577.35" width="3.72" height="2.4" fill="#1f77b4"/>
<rect x="235.81" y="576.85" width="3.72" height="0.5" fill="#9467bd"/>
<rect x="243.27" y="576.65" width="3.72" height="3.1" fill="#1f77b4"/>
<rect x="250.73" y="578.15" width="3.72" height="1.6" fill="#1f77b4"/>
<rect x="250.73" y="577.65" width="3.72" height="0.5" fill="#ff7f0e"/>
<rect x="258.19" y="576.65" width="3.72" height="3.1" fill="#1f77b4"/>
<rect x="265.64" y="574.85" width="3.72" height="4.9" fill="#1f77b4"/>
<rect x="265.64" y="573.85" width="3.72" height="1" fill="#ff7f0e"/>
<rect x="265.64" y="573.25" width="3.72" height="0.6" fill="#d62728"/>
<rect x="273.1" y="577.55" width="3.72" height="2.2" fill="#1f77b4"/>
<rect x="273.1" y="577.05" width="3.72" height="0.5" fill="#9467bd"/>
<rect x="280.56" y="576.55" width="3.72" height="3.2" fill="#1f77b4"/>
<rect x="280.56" y="576.05" width="3.72" height="0.5" fill="#9467bd"/>
<rect x="288.02" y="577.45" width="3.72" height="2.3" fill="#1f77b4"/>
<rect x="288.02" y="577.15" width="3.72" height="0.3" fill="#d62728"/>
<rect x="288.02" y="576.85" width="3.72" height="0.3" fill="#9467bd"/>
<path d="M25.5,519.1V579.75M293.6,519.1V579.75" stroke="#000" stroke-width="0.6" fill="none"/>
<path d="M25.2,519.1H293.9M25.2,579.75H293.9" stroke="#000" stroke-width="0.55" fill="none"/>
<text x="19.8" y="582.35" text-anchor="end" font-size="6.9" textLength="20.04" lengthAdjust="spacingAndGlyphs">0.000</text>
<text x="19.8" y="567.19" text-anchor="end" font-size="6.9" textLength="20.04" lengthAdjust="spacingAndGlyphs">0.025</text>
<text x="19.8" y="552.02" text-anchor="end" font-size="6.9" textLength="20.04" lengthAdjust="spacingAndGlyphs">0.050</text>
<text x="19.8" y="536.86" text-anchor="end" font-size="6.9" textLength="20.04" lengthAdjust="spacingAndGlyphs">0.075</text>
<text x="19.8" y="521.7" text-anchor="end" font-size="6.9" textLength="20.04" lengthAdjust="spacingAndGlyphs">0.100</text>
<path d="M23,579.75H25.5M23,564.59H25.5M23,549.42H25.5M23,534.26H25.5M23,519.1H25.5" stroke="#000" stroke-width="0.55" fill="none"/>
<text x="159.55" y="515.1" text-anchor="middle" font-size="6.9" textLength="88.3" lengthAdjust="spacingAndGlyphs">Ovarian Epithelial Tumor</text>
<rect x="349.13" y="577.55" width="3.73" height="2.2" fill="#1f77b4"/>
<rect x="356.59" y="575.25" width="3.73" height="4.5" fill="#1f77b4"/>
<rect x="356.59" y="574.75" width="3.73" height="0.5" fill="#ff7f0e"/>
<rect x="364.05" y="577.55" width="3.73" height="2.2" fill="#1f77b4"/>
<rect x="371.51" y="575.35" width="3.73" height="4.4" fill="#1f77b4"/>
<rect x="371.51" y="575.05" width="3.73" height="0.3" fill="#ff7f0e"/>
<rect x="371.51" y="574.75" width="3.73" height="0.3" fill="#d62728"/>
<rect x="378.97" y="569.35" width="3.73" height="10.4" fill="#1f77b4"/>
<rect x="378.97" y="568.85" width="3.73" height="0.5" fill="#9467bd"/>
<rect x="386.42" y="574.95" width="3.73" height="4.8" fill="#1f77b4"/>
<rect x="393.88" y="576.45" width="3.73" height="3.3" fill="#1f77b4"/>
<rect x="393.88" y="575.95" width="3.73" height="0.5" fill="#9467bd"/>
<rect x="401.34" y="576.45" width="3.73" height="3.3" fill="#1f77b4"/>
<rect x="401.34" y="575.95" width="3.73" height="0.5" fill="#ff7f0e"/>
<rect x="408.8" y="572.55" width="3.73" height="7.2" fill="#1f77b4"/>
<rect x="408.8" y="572.05" width="3.73" height="0.5" fill="#9467bd"/>
<rect x="416.26" y="576.05" width="3.73" height="3.7" fill="#1f77b4"/>
<rect x="416.26" y="575.55" width="3.73" height="0.5" fill="#d62728"/>
<rect x="423.71" y="577.45" width="3.73" height="2.3" fill="#1f77b4"/>
<rect x="423.71" y="576.95" width="3.73" height="0.5" fill="#9467bd"/>
<rect x="431.17" y="576.55" width="3.73" height="3.2" fill="#1f77b4"/>
<rect x="431.17" y="576.25" width="3.73" height="0.3" fill="#ff7f0e"/>
<rect x="431.17" y="575.95" width="3.73" height="0.3" fill="#d62728"/>
<rect x="438.63" y="573.95" width="3.73" height="5.8" fill="#1f77b4"/>
<rect x="438.63" y="569.95" width="3.73" height="4" fill="#ff7f0e"/>
<rect x="438.63" y="569.65" width="3.73" height="0.3" fill="#d62728"/>
<rect x="446.09" y="576.65" width="3.73" height="3.1" fill="#1f77b4"/>
<rect x="446.09" y="576.15" width="3.73" height="0.5" fill="#d62728"/>
<rect x="453.55" y="566.05" width="3.73" height="13.7" fill="#1f77b4"/>
<rect x="461" y="576.05" width="3.73" height="3.7" fill="#1f77b4"/>
<rect x="461" y="575.55" width="3.73" height="0.5" fill="#d62728"/>
<rect x="468.46" y="570.05" width="3.73" height="9.7" fill="#1f77b4"/>
<rect x="475.92" y="571.35" width="3.73" height="8.4" fill="#1f77b4"/>
<rect x="475.92" y="570.85" width="3.73" height="0.5" fill="#9467bd"/>
<rect x="483.38" y="571.35" width="3.73" height="8.4" fill="#1f77b4"/>
<rect x="483.38" y="570.85" width="3.73" height="0.5" fill="#d62728"/>
<rect x="490.84" y="574.95" width="3.73" height="4.8" fill="#1f77b4"/>
<rect x="498.29" y="576.15" width="3.73" height="3.6" fill="#1f77b4"/>
<rect x="505.75" y="576.15" width="3.73" height="3.6" fill="#1f77b4"/>
<rect x="505.75" y="575.85" width="3.73" height="0.3" fill="#ff7f0e"/>
<rect x="505.75" y="575.55" width="3.73" height="0.3" fill="#2ca02c"/>
<rect x="513.21" y="572.55" width="3.73" height="7.2" fill="#1f77b4"/>
<rect x="513.21" y="572.05" width="3.73" height="0.5" fill="#9467bd"/>
<rect x="520.67" y="576.65" width="3.73" height="3.1" fill="#1f77b4"/>
<rect x="520.67" y="576.15" width="3.73" height="0.5" fill="#d62728"/>
<rect x="528.13" y="577.45" width="3.73" height="2.3" fill="#1f77b4"/>
<rect x="528.13" y="576.95" width="3.73" height="0.5" fill="#d62728"/>
<rect x="535.58" y="575.95" width="3.73" height="3.8" fill="#1f77b4"/>
<rect x="543.04" y="576.55" width="3.73" height="3.2" fill="#1f77b4"/>
<rect x="550.5" y="573.85" width="3.73" height="5.9" fill="#1f77b4"/>
<rect x="550.5" y="573.35" width="3.73" height="0.5" fill="#9467bd"/>
<rect x="557.96" y="576.55" width="3.73" height="3.2" fill="#1f77b4"/>
<rect x="565.42" y="575.75" width="3.73" height="4" fill="#1f77b4"/>
<rect x="572.87" y="575.35" width="3.73" height="4.4" fill="#1f77b4"/>
<rect x="572.87" y="575.05" width="3.73" height="0.3" fill="#ff7f0e"/>
<rect x="572.87" y="574.75" width="3.73" height="0.3" fill="#d62728"/>
<rect x="580.33" y="575.45" width="3.73" height="4.3" fill="#1f77b4"/>
<rect x="580.33" y="574.95" width="3.73" height="0.5" fill="#ff7f0e"/>
<rect x="587.79" y="569.85" width="3.73" height="9.9" fill="#1f77b4"/>
<rect x="587.79" y="568.65" width="3.73" height="1.2" fill="#ff7f0e"/>
<rect x="587.79" y="568.25" width="3.73" height="0.4" fill="#d62728"/>
<rect x="595.25" y="577.45" width="3.73" height="2.3" fill="#1f77b4"/>
<rect x="595.25" y="576.95" width="3.73" height="0.5" fill="#9467bd"/>
<rect x="602.71" y="575.35" width="3.73" height="4.4" fill="#1f77b4"/>
<rect x="610.16" y="577.45" width="3.73" height="2.3" fill="#1f77b4"/>
<rect x="610.16" y="576.95" width="3.73" height="0.5" fill="#d62728"/>
<path d="M347.4,519.1V579.75M616.1,519.1V579.75" stroke="#000" stroke-width="0.6" fill="none"/>
<path d="M347.1,519.1H616.4M347.1,579.75H616.4" stroke="#000" stroke-width="0.55" fill="none"/>
<text x="342.4" y="582.35" text-anchor="end" font-size="6.9" textLength="19.61" lengthAdjust="spacingAndGlyphs">0.000</text>
<text x="342.4" y="567.19" text-anchor="end" font-size="6.9" textLength="19.61" lengthAdjust="spacingAndGlyphs">0.025</text>
<text x="342.4" y="552.02" text-anchor="end" font-size="6.9" textLength="19.61" lengthAdjust="spacingAndGlyphs">0.050</text>
<text x="342.4" y="536.86" text-anchor="end" font-size="6.9" textLength="19.61" lengthAdjust="spacingAndGlyphs">0.075</text>
<text x="342.4" y="521.7" text-anchor="end" font-size="6.9" textLength="19.61" lengthAdjust="spacingAndGlyphs">0.100</text>
<path d="M344.9,579.75H347.4M344.9,564.59H347.4M344.9,549.42H347.4M344.9,534.26H347.4M344.9,519.1H347.4" stroke="#000" stroke-width="0.55" fill="none"/>
<text x="481.75" y="515.1" text-anchor="middle" font-size="6.9" textLength="64.59" lengthAdjust="spacingAndGlyphs">Pancreatic Cancer</text>
<rect x="26.99" y="649.95" width="3.72" height="2.7" fill="#1f77b4"/>
<rect x="26.99" y="649.45" width="3.72" height="0.5" fill="#ff7f0e"/>
<rect x="34.45" y="648.65" width="3.72" height="4" fill="#1f77b4"/>
<rect x="41.9" y="649.55" width="3.72" height="3.1" fill="#1f77b4"/>
<rect x="41.9" y="649.05" width="3.72" height="0.5" fill="#ff7f0e"/>
<rect x="49.36" y="649.15" width="3.72" height="3.5" fill="#1f77b4"/>
<rect x="49.36" y="648.65" width="3.72" height="0.5" fill="#ff7f0e"/>
<rect x="56.82" y="648.95" width="3.72" height="3.7" fill="#1f77b4"/>
<rect x="56.82" y="648.45" width="3.72" height="0.5" fill="#ff7f0e"/>
<rect x="64.28" y="626.05" width="3.72" height="26.6" fill="#1f77b4"/>
<rect x="64.28" y="625.55" width="3.72" height="0.5" fill="#9467bd"/>
<rect x="71.74" y="648.35" width="3.72" height="4.3" fill="#1f77b4"/>
<rect x="71.74" y="647.85" width="3.72" height="0.5" fill="#ff7f0e"/>
<rect x="79.19" y="650.45" width="3.72" height="2.2" fill="#1f77b4"/>
<rect x="86.65" y="650.15" width="3.72" height="2.5" fill="#1f77b4"/>
<rect x="86.65" y="649.65" width="3.72" height="0.5" fill="#9467bd"/>
<rect x="94.11" y="650.95" width="3.72" height="1.7" fill="#1f77b4"/>
<rect x="94.11" y="650.45" width="3.72" height="0.5" fill="#ff7f0e"/>
<rect x="101.57" y="649.55" width="3.72" height="3.1" fill="#1f77b4"/>
<rect x="101.57" y="649.05" width="3.72" height="0.5" fill="#9467bd"/>
<rect x="109.03" y="649.95" width="3.72" height="2.7" fill="#1f77b4"/>
<rect x="109.03" y="649.45" width="3.72" height="0.5" fill="#ff7f0e"/>
<rect x="116.48" y="648.45" width="3.72" height="4.2" fill="#1f77b4"/>
<rect x="116.48" y="646.65" width="3.72" height="1.8" fill="#ff7f0e"/>
<rect x="123.94" y="650.35" width="3.72" height="2.3" fill="#1f77b4"/>
<rect x="123.94" y="649.85" width="3.72" height="0.5" fill="#ff7f0e"/>
<rect x="131.4" y="615.15" width="3.72" height="37.5" fill="#1f77b4"/>
<rect x="138.86" y="646.45" width="3.72" height="6.2" fill="#1f77b4"/>
<rect x="146.32" y="644.55" width="3.72" height="8.1" fill="#1f77b4"/>
<rect x="153.77" y="647.45" width="3.72" height="5.2" fill="#1f77b4"/>
<rect x="161.23" y="644.95" width="3.72" height="7.7" fill="#1f77b4"/>
<rect x="168.69" y="647.95" width="3.72" height="4.7" fill="#1f77b4"/>
<rect x="168.69" y="647.45" width="3.72" height="0.5" fill="#ff7f0e"/>
<rect x="176.15" y="650.05" width="3.72" height="2.6" fill="#1f77b4"/>
<rect x="183.61" y="650.65" width="3.72" height="2" fill="#1f77b4"/>
<rect x="191.06" y="650.65" width="3.72" height="2" fill="#1f77b4"/>
<rect x="198.52" y="649.65" width="3.72" height="3" fill="#1f77b4"/>
<rect x="205.98" y="650.45" width="3.72" height="2.2" fill="#1f77b4"/>
<rect x="213.44" y="648.85" width="3.72" height="3.8" fill="#1f77b4"/>
<rect x="220.9" y="644.15" width="3.72" height="8.5" fill="#1f77b4"/>
<rect x="228.35" y="649.35" width="3.72" height="3.3" fill="#1f77b4"/>
<rect x="228.35" y="648.85" width="3.72" height="0.5" fill="#9467bd"/>
<rect x="235.81" y="650.45" width="3.72" height="2.2" fill="#1f77b4"/>
<rect x="243.27" y="650.05" width="3.72" height="2.6" fill="#1f77b4"/>
<rect x="250.73" y="650.05" width="3.72" height="2.6" fill="#1f77b4"/>
<rect x="258.19" y="649.75" width="3.72" height="2.9" fill="#1f77b4"/>
<rect x="258.19" y="649.25" width="3.72" height="0.5" fill="#ff7f0e"/>
<rect x="265.64" y="645.45" width="3.72" height="7.2" fill="#1f77b4"/>
<rect x="265.64" y="644.95" width="3.72" height="0.5" fill="#d62728"/>
<rect x="273.1" y="649.95" width="3.72" height="2.7" fill="#1f77b4"/>
<rect x="273.1" y="649.45" width="3.72" height="0.5" fill="#ff7f0e"/>
<rect x="280.56" y="649.65" width="3.72" height="3" fill="#1f77b4"/>
<rect x="288.02" y="650.25" width="3.72" height="2.4" fill="#1f77b4"/>
<rect x="288.02" y="649.95" width="3.72" height="0.3" fill="#d62728"/>
<rect x="288.02" y="649.65" width="3.72" height="0.3" fill="#9467bd"/>
<path d="M25.5,592V652.65M293.6,592V652.65" stroke="#000" stroke-width="0.6" fill="none"/>
<path d="M25.2,592H293.9M25.2,652.65H293.9" stroke="#000" stroke-width="0.55" fill="none"/>
<text x="19.8" y="655.25" text-anchor="end" font-size="6.9" textLength="20.04" lengthAdjust="spacingAndGlyphs">0.000</text>
<text x="19.8" y="640.09" text-anchor="end" font-size="6.9" textLength="20.04" lengthAdjust="spacingAndGlyphs">0.025</text>
<text x="19.8" y="624.92" text-anchor="end" font-size="6.9" textLength="20.04" lengthAdjust="spacingAndGlyphs">0.050</text>
<text x="19.8" y="609.76" text-anchor="end" font-size="6.9" textLength="20.04" lengthAdjust="spacingAndGlyphs">0.075</text>
<text x="19.8" y="594.6" text-anchor="end" font-size="6.9" textLength="20.04" lengthAdjust="spacingAndGlyphs">0.100</text>
<path d="M23,652.65H25.5M23,637.49H25.5M23,622.32H25.5M23,607.16H25.5M23,592H25.5" stroke="#000" stroke-width="0.55" fill="none"/>
<text x="159.55" y="588" text-anchor="middle" font-size="6.9" textLength="70.92" lengthAdjust="spacingAndGlyphs">Pheochromocytoma</text>
<rect x="349.13" y="650.05" width="3.73" height="2.6" fill="#1f77b4"/>
<rect x="356.59" y="651.15" width="3.73" height="1.5" fill="#1f77b4"/>
<rect x="356.59" y="650.65" width="3.73" height="0.5" fill="#ff7f0e"/>
<rect x="364.05" y="650.85" width="3.73" height="1.8" fill="#1f77b4"/>
<rect x="364.05" y="650.55" width="3.73" height="0.3" fill="#ff7f0e"/>
<rect x="364.05" y="650.25" width="3.73" height="0.3" fill="#d62728"/>
<rect x="371.51" y="648.65" width="3.73" height="4" fill="#1f77b4"/>
<rect x="378.97" y="647.65" width="3.73" height="5" fill="#1f77b4"/>
<rect x="386.42" y="624.85" width="3.73" height="27.8" fill="#1f77b4"/>
<rect x="393.88" y="648.65" width="3.73" height="4" fill="#1f77b4"/>
<rect x="401.34" y="651.05" width="3.73" height="1.6" fill="#1f77b4"/>
<rect x="408.8" y="649.85" width="3.73" height="2.8" fill="#1f77b4"/>
<rect x="416.26" y="649.85" width="3.73" height="2.8" fill="#1f77b4"/>
<rect x="423.71" y="650.45" width="3.73" height="2.2" fill="#1f77b4"/>
<rect x="431.17" y="648.95" width="3.73" height="3.7" fill="#1f77b4"/>
<rect x="431.17" y="648.45" width="3.73" height="0.5" fill="#ff7f0e"/>
<rect x="438.63" y="647.55" width="3.73" height="5.1" fill="#1f77b4"/>
<rect x="438.63" y="647.05" width="3.73" height="0.5" fill="#d62728"/>
<rect x="446.09" y="650.55" width="3.73" height="2.1" fill="#1f77b4"/>
<rect x="446.09" y="650.05" width="3.73" height="0.5" fill="#ff7f0e"/>
<rect x="453.55" y="620.75" width="3.73" height="31.9" fill="#1f77b4"/>
<rect x="453.55" y="620.25" width="3.73" height="0.5" fill="#9467bd"/>
<rect x="461" y="647.25" width="3.73" height="5.4" fill="#1f77b4"/>
<rect x="468.46" y="647.05" width="3.73" height="5.6" fill="#1f77b4"/>
<rect x="475.92" y="646.45" width="3.73" height="6.2" fill="#1f77b4"/>
<rect x="475.92" y="645.95" width="3.73" height="0.5" fill="#9467bd"/>
<rect x="483.38" y="644.75" width="3.73" height="7.9" fill="#1f77b4"/>
<rect x="490.84" y="647.05" width="3.73" height="5.6" fill="#1f77b4"/>
<rect x="498.29" y="650.45" width="3.73" height="2.2" fill="#1f77b4"/>
<rect x="505.75" y="650.65" width="3.73" height="2" fill="#1f77b4"/>
<rect x="513.21" y="650.85" width="3.73" height="1.8" fill="#1f77b4"/>
<rect x="520.67" y="650.15" width="3.73" height="2.5" fill="#1f77b4"/>
<rect x="520.67" y="649.65" width="3.73" height="0.5" fill="#ff7f0e"/>
<rect x="528.13" y="651.05" width="3.73" height="1.6" fill="#1f77b4"/>
<rect x="535.58" y="649.65" width="3.73" height="3" fill="#1f77b4"/>
<rect x="543.04" y="644.95" width="3.73" height="7.7" fill="#1f77b4"/>
<rect x="550.5" y="650.55" width="3.73" height="2.1" fill="#1f77b4"/>
<rect x="550.5" y="650.05" width="3.73" height="0.5" fill="#9467bd"/>
<rect x="557.96" y="650.45" width="3.73" height="2.2" fill="#1f77b4"/>
<rect x="565.42" y="651.55" width="3.73" height="1.1" fill="#1f77b4"/>
<rect x="565.42" y="651.05" width="3.73" height="0.5" fill="#ff7f0e"/>
<rect x="572.87" y="650.65" width="3.73" height="2" fill="#1f77b4"/>
<rect x="580.33" y="649.55" width="3.73" height="3.1" fill="#1f77b4"/>
<rect x="580.33" y="649.05" width="3.73" height="0.5" fill="#ff7f0e"/>
<rect x="587.79" y="642.65" width="3.73" height="10" fill="#1f77b4"/>
<rect x="587.79" y="642.15" width="3.73" height="0.5" fill="#d62728"/>
<rect x="595.25" y="650.05" width="3.73" height="2.6" fill="#1f77b4"/>
<rect x="602.71" y="650.05" width="3.73" height="2.6" fill="#1f77b4"/>
<rect x="610.16" y="650.05" width="3.73" height="2.6" fill="#1f77b4"/>
<path d="M347.4,592V652.65M616.1,592V652.65" stroke="#000" stroke-width="0.6" fill="none"/>
<path d="M347.1,592H616.4M347.1,652.65H616.4" stroke="#000" stroke-width="0.55" fill="none"/>
<text x="342.4" y="655.25" text-anchor="end" font-size="6.9" textLength="19.61" lengthAdjust="spacingAndGlyphs">0.000</text>
<text x="342.4" y="640.09" text-anchor="end" font-size="6.9" textLength="19.61" lengthAdjust="spacingAndGlyphs">0.025</text>
<text x="342.4" y="624.92" text-anchor="end" font-size="6.9" textLength="19.61" lengthAdjust="spacingAndGlyphs">0.050</text>
<text x="342.4" y="609.76" text-anchor="end" font-size="6.9" textLength="19.61" lengthAdjust="spacingAndGlyphs">0.075</text>
<text x="342.4" y="594.6" text-anchor="end" font-size="6.9" textLength="19.61" lengthAdjust="spacingAndGlyphs">0.100</text>
<path d="M344.9,652.65H347.4M344.9,637.49H347.4M344.9,622.32H347.4M344.9,607.16H347.4M344.9,592H347.4" stroke="#000" stroke-width="0.55" fill="none"/>
<text x="481.75" y="588" text-anchor="middle" font-size="6.9" textLength="131.52" lengthAdjust="spacingAndGlyphs">Miscellaneous Neuroepithelial Tumor</text>
<rect x="26.99" y="724.05" width="3.72" height="1.5" fill="#1f77b4"/>
<rect x="34.45" y="722.65" width="3.72" height="2.9" fill="#1f77b4"/>
<rect x="41.9" y="724.95" width="3.72" height="0.6" fill="#1f77b4"/>
<rect x="41.9" y="724.45" width="3.72" height="0.5" fill="#ff7f0e"/>
<rect x="49.36" y="722.55" width="3.72" height="3" fill="#1f77b4"/>
<rect x="49.36" y="722.05" width="3.72" height="0.5" fill="#ff7f0e"/>
<rect x="56.82" y="722.65" width="3.72" height="2.9" fill="#1f77b4"/>
<rect x="64.28" y="720.65" width="3.72" height="4.9" fill="#1f77b4"/>
<rect x="71.74" y="723.15" width="3.72" height="2.4" fill="#1f77b4"/>
<rect x="71.74" y="722.65" width="3.72" height="0.5" fill="#9467bd"/>
<rect x="79.19" y="724.45" width="3.72" height="1.1" fill="#1f77b4"/>
<rect x="86.65" y="724.15" width="3.72" height="1.4" fill="#1f77b4"/>
<rect x="86.65" y="723.65" width="3.72" height="0.5" fill="#9467bd"/>
<rect x="94.11" y="724.05" width="3.72" height="1.5" fill="#1f77b4"/>
<rect x="101.57" y="724.15" width="3.72" height="1.4" fill="#1f77b4"/>
<rect x="101.57" y="723.65" width="3.72" height="0.5" fill="#9467bd"/>
<rect x="109.03" y="722.95" width="3.72" height="2.6" fill="#1f77b4"/>
<rect x="109.03" y="722.45" width="3.72" height="0.5" fill="#ff7f0e"/>
<rect x="116.48" y="721.95" width="3.72" height="3.6" fill="#1f77b4"/>
<rect x="116.48" y="721.05" width="3.72" height="0.9" fill="#ff7f0e"/>
<rect x="123.94" y="723.65" width="3.72" height="1.9" fill="#1f77b4"/>
<rect x="131.4" y="715.35" width="3.72" height="10.2" fill="#1f77b4"/>
<rect x="131.4" y="715.05" width="3.72" height="0.3" fill="#ff7f0e"/>
<rect x="131.4" y="714.75" width="3.72" height="0.3" fill="#d62728"/>
<rect x="138.86" y="724.05" width="3.72" height="1.5" fill="#1f77b4"/>
<rect x="146.32" y="664.9" width="3.72" height="60.65" fill="#1f77b4"/>
<rect x="153.77" y="721.85" width="3.72" height="3.7" fill="#1f77b4"/>
<rect x="161.23" y="720.85" width="3.72" height="4.7" fill="#1f77b4"/>
<rect x="168.69" y="723.05" width="3.72" height="2.5" fill="#1f77b4"/>
<rect x="176.15" y="723.65" width="3.72" height="1.9" fill="#1f77b4"/>
<rect x="183.61" y="723.05" width="3.72" height="2.5" fill="#1f77b4"/>
<rect x="191.06" y="723.85" width="3.72" height="1.7" fill="#1f77b4"/>
<rect x="198.52" y="723.65" width="3.72" height="1.9" fill="#1f77b4"/>
<rect x="205.98" y="724.05" width="3.72" height="1.5" fill="#1f77b4"/>
<rect x="213.44" y="722.45" width="3.72" height="3.1" fill="#1f77b4"/>
<rect x="220.9" y="722.85" width="3.72" height="2.7" fill="#1f77b4"/>
<rect x="228.35" y="722.05" width="3.72" height="3.5" fill="#1f77b4"/>
<rect x="235.81" y="723.45" width="3.72" height="2.1" fill="#1f77b4"/>
<rect x="243.27" y="723.45" width="3.72" height="2.1" fill="#1f77b4"/>
<rect x="250.73" y="723.05" width="3.72" height="2.5" fill="#1f77b4"/>
<rect x="258.19" y="722.45" width="3.72" height="3.1" fill="#1f77b4"/>
<rect x="265.64" y="719.75" width="3.72" height="5.8" fill="#1f77b4"/>
<rect x="265.64" y="719.25" width="3.72" height="0.5" fill="#d62728"/>
<rect x="273.1" y="723.35" width="3.72" height="2.2" fill="#1f77b4"/>
<rect x="273.1" y="722.85" width="3.72" height="0.5" fill="#d62728"/>
<rect x="280.56" y="720.85" width="3.72" height="4.7" fill="#1f77b4"/>
<rect x="288.02" y="724.55" width="3.72" height="1" fill="#1f77b4"/>
<rect x="288.02" y="724.05" width="3.72" height="0.5" fill="#ff7f0e"/>
<path d="M25.5,664.9V725.55M293.6,664.9V725.55" stroke="#000" stroke-width="0.6" fill="none"/>
<path d="M25.2,664.9H293.9M25.2,725.55H293.9" stroke="#000" stroke-width="0.55" fill="none"/>
<text x="19.8" y="728.15" text-anchor="end" font-size="6.9" textLength="20.04" lengthAdjust="spacingAndGlyphs">0.000</text>
<text x="19.8" y="712.99" text-anchor="end" font-size="6.9" textLength="20.04" lengthAdjust="spacingAndGlyphs">0.025</text>
<text x="19.8" y="697.82" text-anchor="end" font-size="6.9" textLength="20.04" lengthAdjust="spacingAndGlyphs">0.050</text>
<text x="19.8" y="682.66" text-anchor="end" font-size="6.9" textLength="20.04" lengthAdjust="spacingAndGlyphs">0.075</text>
<text x="19.8" y="667.5" text-anchor="end" font-size="6.9" textLength="20.04" lengthAdjust="spacingAndGlyphs">0.100</text>
<path d="M23,725.55H25.5M23,710.39H25.5M23,695.22H25.5M23,680.06H25.5M23,664.9H25.5" stroke="#000" stroke-width="0.55" fill="none"/>
<text x="159.55" y="660.9" text-anchor="middle" font-size="6.9" textLength="56.79" lengthAdjust="spacingAndGlyphs">Prostate Cancer</text>
<rect x="349.13" y="723.05" width="3.73" height="2.5" fill="#1f77b4"/>
<rect x="349.13" y="722.55" width="3.73" height="0.5" fill="#ff7f0e"/>
<rect x="356.59" y="721.55" width="3.73" height="4" fill="#1f77b4"/>
<rect x="364.05" y="723.55" width="3.73" height="2" fill="#1f77b4"/>
<rect x="371.51" y="721.25" width="3.73" height="4.3" fill="#1f77b4"/>
<rect x="371.51" y="720.75" width="3.73" height="0.5" fill="#d62728"/>
<rect x="378.97" y="719.85" width="3.73" height="5.7" fill="#1f77b4"/>
<rect x="378.97" y="719.35" width="3.73" height="0.5" fill="#d62728"/>
<rect x="386.42" y="718.85" width="3.73" height="6.7" fill="#1f77b4"/>
<rect x="393.88" y="722.05" width="3.73" height="3.5" fill="#1f77b4"/>
<rect x="393.88" y="721.55" width="3.73" height="0.5" fill="#d62728"/>
<rect x="401.34" y="716.25" width="3.73" height="9.3" fill="#1f77b4"/>
<rect x="401.34" y="715.95" width="3.73" height="0.3" fill="#d62728"/>
<rect x="401.34" y="715.65" width="3.73" height="0.3" fill="#9467bd"/>
<rect x="408.8" y="715.95" width="3.73" height="9.6" fill="#1f77b4"/>
<rect x="408.8" y="715.45" width="3.73" height="0.5" fill="#9467bd"/>
<rect x="416.26" y="722.35" width="3.73" height="3.2" fill="#1f77b4"/>
<rect x="416.26" y="722.05" width="3.73" height="0.3" fill="#d62728"/>
<rect x="416.26" y="721.75" width="3.73" height="0.3" fill="#9467bd"/>
<rect x="423.71" y="722.95" width="3.73" height="2.6" fill="#1f77b4"/>
<rect x="431.17" y="722.45" width="3.73" height="3.1" fill="#1f77b4"/>
<rect x="431.17" y="721.95" width="3.73" height="0.5" fill="#d62728"/>
<rect x="438.63" y="720.15" width="3.73" height="5.4" fill="#1f77b4"/>
<rect x="438.63" y="718.95" width="3.73" height="1.2" fill="#ff7f0e"/>
<rect x="438.63" y="718.45" width="3.73" height="0.5" fill="#d62728"/>
<rect x="446.09" y="723.45" width="3.73" height="2.1" fill="#1f77b4"/>
<rect x="446.09" y="722.95" width="3.73" height="0.5" fill="#ff7f0e"/>
<rect x="453.55" y="704.75" width="3.73" height="20.8" fill="#1f77b4"/>
<rect x="461" y="722.95" width="3.73" height="2.6" fill="#1f77b4"/>
<rect x="461" y="722.65" width="3.73" height="0.3" fill="#d62728"/>
<rect x="461" y="722.35" width="3.73" height="0.3" fill="#9467bd"/>
<rect x="468.46" y="714.75" width="3.73" height="10.8" fill="#1f77b4"/>
<rect x="468.46" y="714.25" width="3.73" height="0.5" fill="#ff7f0e"/>
<rect x="475.92" y="717.15" width="3.73" height="8.4" fill="#1f77b4"/>
<rect x="475.92" y="716.65" width="3.73" height="0.5" fill="#9467bd"/>
<rect x="483.38" y="715.55" width="3.73" height="10" fill="#1f77b4"/>
<rect x="483.38" y="715.05" width="3.73" height="0.5" fill="#d62728"/>
<rect x="490.84" y="712.75" width="3.73" height="12.8" fill="#1f77b4"/>
<rect x="490.84" y="712.25" width="3.73" height="0.5" fill="#9467bd"/>
<rect x="498.29" y="722.15" width="3.73" height="3.4" fill="#1f77b4"/>
<rect x="505.75" y="722.85" width="3.73" height="2.7" fill="#1f77b4"/>
<rect x="505.75" y="722.35" width="3.73" height="0.5" fill="#d62728"/>
<rect x="513.21" y="722.95" width="3.73" height="2.6" fill="#1f77b4"/>
<rect x="520.67" y="722.15" width="3.73" height="3.4" fill="#1f77b4"/>
<rect x="528.13" y="721.95" width="3.73" height="3.6" fill="#1f77b4"/>
<rect x="535.58" y="720.55" width="3.73" height="5" fill="#1f77b4"/>
<rect x="535.58" y="720.25" width="3.73" height="0.3" fill="#d62728"/>
<rect x="535.58" y="719.95" width="3.73" height="0.3" fill="#9467bd"/>
<rect x="543.04" y="722.75" width="3.73" height="2.8" fill="#1f77b4"/>
<rect x="550.5" y="720.65" width="3.73" height="4.9" fill="#1f77b4"/>
<rect x="550.5" y="720.15" width="3.73" height="0.5" fill="#9467bd"/>
<rect x="557.96" y="723.55" width="3.73" height="2" fill="#1f77b4"/>
<rect x="565.42" y="721.95" width="3.73" height="3.6" fill="#1f77b4"/>
<rect x="572.87" y="723.45" width="3.73" height="2.1" fill="#1f77b4"/>
<rect x="572.87" y="722.95" width="3.73" height="0.5" fill="#d62728"/>
<rect x="580.33" y="721.35" width="3.73" height="4.2" fill="#1f77b4"/>
<rect x="587.79" y="716.75" width="3.73" height="8.8" fill="#1f77b4"/>
<rect x="587.79" y="716.25" width="3.73" height="0.5" fill="#d62728"/>
<rect x="595.25" y="720.85" width="3.73" height="4.7" fill="#1f77b4"/>
<rect x="595.25" y="720.35" width="3.73" height="0.5" fill="#9467bd"/>
<rect x="602.71" y="721.35" width="3.73" height="4.2" fill="#1f77b4"/>
<rect x="610.16" y="723.45" width="3.73" height="2.1" fill="#1f77b4"/>
<rect x="610.16" y="722.95" width="3.73" height="0.5" fill="#d62728"/>
<path d="M347.4,664.9V725.55M616.1,664.9V725.55" stroke="#000" stroke-width="0.6" fill="none"/>
<path d="M347.1,664.9H616.4M347.1,725.55H616.4" stroke="#000" stroke-width="0.55" fill="none"/>
<text x="342.4" y="728.15" text-anchor="end" font-size="6.9" textLength="19.61" lengthAdjust="spacingAndGlyphs">0.000</text>
<text x="342.4" y="712.99" text-anchor="end" font-size="6.9" textLength="19.61" lengthAdjust="spacingAndGlyphs">0.025</text>
<text x="342.4" y="697.82" text-anchor="end" font-size="6.9" textLength="19.61" lengthAdjust="spacingAndGlyphs">0.050</text>
<text x="342.4" y="682.66" text-anchor="end" font-size="6.9" textLength="19.61" lengthAdjust="spacingAndGlyphs">0.075</text>
<text x="342.4" y="667.5" text-anchor="end" font-size="6.9" textLength="19.61" lengthAdjust="spacingAndGlyphs">0.100</text>
<path d="M344.9,725.55H347.4M344.9,710.39H347.4M344.9,695.22H347.4M344.9,680.06H347.4M344.9,664.9H347.4" stroke="#000" stroke-width="0.55" fill="none"/>
<text x="481.75" y="660.9" text-anchor="middle" font-size="6.9" textLength="72.51" lengthAdjust="spacingAndGlyphs">Soft Tissue Sarcoma</text>
<rect x="26.99" y="795.05" width="3.72" height="3.4" fill="#1f77b4"/>
<rect x="34.45" y="794.55" width="3.72" height="3.9" fill="#1f77b4"/>
<rect x="34.45" y="794.05" width="3.72" height="0.5" fill="#ff7f0e"/>
<rect x="41.9" y="796.65" width="3.72" height="1.8" fill="#1f77b4"/>
<rect x="49.36" y="795.45" width="3.72" height="3" fill="#1f77b4"/>
<rect x="56.82" y="794.65" width="3.72" height="3.8" fill="#1f77b4"/>
<rect x="64.28" y="792.85" width="3.72" height="5.6" fill="#1f77b4"/>
<rect x="71.74" y="794.65" width="3.72" height="3.8" fill="#1f77b4"/>
<rect x="79.19" y="797.55" width="3.72" height="0.9" fill="#1f77b4"/>
<rect x="79.19" y="797.05" width="3.72" height="0.5" fill="#ff7f0e"/>
<rect x="86.65" y="796.15" width="3.72" height="2.3" fill="#1f77b4"/>
<rect x="86.65" y="795.65" width="3.72" height="0.5" fill="#9467bd"/>
<rect x="94.11" y="797.15" width="3.72" height="1.3" fill="#1f77b4"/>
<rect x="94.11" y="796.65" width="3.72" height="0.5" fill="#9467bd"/>
<rect x="101.57" y="796.65" width="3.72" height="1.8" fill="#1f77b4"/>
<rect x="109.03" y="795.15" width="3.72" height="3.3" fill="#1f77b4"/>
<rect x="109.03" y="794.65" width="3.72" height="0.5" fill="#ff7f0e"/>
<rect x="116.48" y="794.65" width="3.72" height="3.8" fill="#1f77b4"/>
<rect x="116.48" y="793.65" width="3.72" height="1" fill="#ff7f0e"/>
<rect x="123.94" y="796.75" width="3.72" height="1.7" fill="#1f77b4"/>
<rect x="123.94" y="796.25" width="3.72" height="0.5" fill="#ff7f0e"/>
<rect x="131.4" y="792.25" width="3.72" height="6.2" fill="#1f77b4"/>
<rect x="131.4" y="791.75" width="3.72" height="0.5" fill="#ff7f0e"/>
<rect x="138.86" y="796.05" width="3.72" height="2.4" fill="#1f77b4"/>
<rect x="146.32" y="788.95" width="3.72" height="9.5" fill="#1f77b4"/>
<rect x="153.77" y="795.05" width="3.72" height="3.4" fill="#1f77b4"/>
<rect x="161.23" y="794.25" width="3.72" height="4.2" fill="#1f77b4"/>
<rect x="168.69" y="795.25" width="3.72" height="3.2" fill="#1f77b4"/>
<rect x="176.15" y="796.65" width="3.72" height="1.8" fill="#1f77b4"/>
<rect x="183.61" y="796.85" width="3.72" height="1.6" fill="#1f77b4"/>
<rect x="183.61" y="796.55" width="3.72" height="0.3" fill="#ff7f0e"/>
<rect x="183.61" y="796.25" width="3.72" height="0.3" fill="#2ca02c"/>
<rect x="191.06" y="796.65" width="3.72" height="1.8" fill="#1f77b4"/>
<rect x="198.52" y="795.25" width="3.72" height="3.2" fill="#1f77b4"/>
<rect x="205.98" y="797.05" width="3.72" height="1.4" fill="#1f77b4"/>
<rect x="213.44" y="796.05" width="3.72" height="2.4" fill="#1f77b4"/>
<rect x="220.9" y="795.25" width="3.72" height="3.2" fill="#1f77b4"/>
<rect x="228.35" y="795.85" width="3.72" height="2.6" fill="#1f77b4"/>
<rect x="235.81" y="797.05" width="3.72" height="1.4" fill="#1f77b4"/>
<rect x="243.27" y="796.05" width="3.72" height="2.4" fill="#1f77b4"/>
<rect x="250.73" y="790.15" width="3.72" height="8.3" fill="#1f77b4"/>
<rect x="258.19" y="794.85" width="3.72" height="3.6" fill="#1f77b4"/>
<rect x="265.64" y="737.8" width="3.72" height="60.65" fill="#1f77b4"/>
<rect x="273.1" y="796.65" width="3.72" height="1.8" fill="#1f77b4"/>
<rect x="280.56" y="796.05" width="3.72" height="2.4" fill="#1f77b4"/>
<rect x="288.02" y="796.85" width="3.72" height="1.6" fill="#1f77b4"/>
<rect x="288.02" y="796.55" width="3.72" height="0.3" fill="#ff7f0e"/>
<rect x="288.02" y="796.25" width="3.72" height="0.3" fill="#d62728"/>
<path d="M25.5,737.8V798.45M293.6,737.8V798.45" stroke="#000" stroke-width="0.6" fill="none"/>
<path d="M25.2,737.8H293.9M25.2,798.45H293.9" stroke="#000" stroke-width="0.55" fill="none"/>
<text x="19.8" y="801.05" text-anchor="end" font-size="6.9" textLength="20.04" lengthAdjust="spacingAndGlyphs">0.000</text>
<text x="19.8" y="785.89" text-anchor="end" font-size="6.9" textLength="20.04" lengthAdjust="spacingAndGlyphs">0.025</text>
<text x="19.8" y="770.72" text-anchor="end" font-size="6.9" textLength="20.04" lengthAdjust="spacingAndGlyphs">0.050</text>
<text x="19.8" y="755.56" text-anchor="end" font-size="6.9" textLength="20.04" lengthAdjust="spacingAndGlyphs">0.075</text>
<text x="19.8" y="740.4" text-anchor="end" font-size="6.9" textLength="20.04" lengthAdjust="spacingAndGlyphs">0.100</text>
<path d="M23,798.45H25.5M23,783.29H25.5M23,768.12H25.5M23,752.96H25.5M23,737.8H25.5" stroke="#000" stroke-width="0.55" fill="none"/>
<text x="159.55" y="733.8" text-anchor="middle" font-size="6.9" textLength="54.04" lengthAdjust="spacingAndGlyphs">Thyroid Cancer</text>
<rect x="349.13" y="795.55" width="3.73" height="2.9" fill="#1f77b4"/>
<rect x="349.13" y="795.05" width="3.73" height="0.5" fill="#ff7f0e"/>
<rect x="356.59" y="793.85" width="3.73" height="4.6" fill="#1f77b4"/>
<rect x="364.05" y="796.55" width="3.73" height="1.9" fill="#1f77b4"/>
<rect x="364.05" y="796.05" width="3.73" height="0.5" fill="#ff7f0e"/>
<rect x="371.51" y="794.05" width="3.73" height="4.4" fill="#1f77b4"/>
<rect x="371.51" y="793.75" width="3.73" height="0.3" fill="#d62728"/>
<rect x="371.51" y="793.45" width="3.73" height="0.3" fill="#9467bd"/>
<rect x="378.97" y="794.35" width="3.73" height="4.1" fill="#1f77b4"/>
<rect x="378.97" y="793.85" width="3.73" height="0.5" fill="#ff7f0e"/>
<rect x="386.42" y="793.25" width="3.73" height="5.2" fill="#1f77b4"/>
<rect x="393.88" y="795.85" width="3.73" height="2.6" fill="#1f77b4"/>
<rect x="401.34" y="795.65" width="3.73" height="2.8" fill="#1f77b4"/>
<rect x="408.8" y="796.35" width="3.73" height="2.1" fill="#1f77b4"/>
<rect x="408.8" y="795.85" width="3.73" height="0.5" fill="#9467bd"/>
<rect x="416.26" y="796.65" width="3.73" height="1.8" fill="#1f77b4"/>
<rect x="416.26" y="796.35" width="3.73" height="0.3" fill="#d62728"/>
<rect x="416.26" y="796.05" width="3.73" height="0.3" fill="#9467bd"/>
<rect x="423.71" y="796.45" width="3.73" height="2" fill="#1f77b4"/>
<rect x="431.17" y="796.55" width="3.73" height="1.9" fill="#1f77b4"/>
<rect x="431.17" y="796.05" width="3.73" height="0.5" fill="#ff7f0e"/>
<rect x="438.63" y="793.65" width="3.73" height="4.8" fill="#1f77b4"/>
<rect x="438.63" y="792.25" width="3.73" height="1.4" fill="#ff7f0e"/>
<rect x="446.09" y="795.95" width="3.73" height="2.5" fill="#1f77b4"/>
<rect x="446.09" y="795.45" width="3.73" height="0.5" fill="#9467bd"/>
<rect x="453.55" y="788.75" width="3.73" height="9.7" fill="#1f77b4"/>
<rect x="461" y="795.95" width="3.73" height="2.5" fill="#1f77b4"/>
<rect x="461" y="795.45" width="3.73" height="0.5" fill="#ff7f0e"/>
<rect x="468.46" y="790.45" width="3.73" height="8" fill="#1f77b4"/>
<rect x="468.46" y="789.95" width="3.73" height="0.5" fill="#ff7f0e"/>
<rect x="475.92" y="793.95" width="3.73" height="4.5" fill="#1f77b4"/>
<rect x="475.92" y="793.45" width="3.73" height="0.5" fill="#d62728"/>
<rect x="483.38" y="778.85" width="3.73" height="19.6" fill="#1f77b4"/>
<rect x="483.38" y="778.35" width="3.73" height="0.5" fill="#d62728"/>
<rect x="490.84" y="794.85" width="3.73" height="3.6" fill="#1f77b4"/>
<rect x="498.29" y="794.85" width="3.73" height="3.6" fill="#1f77b4"/>
<rect x="505.75" y="795.35" width="3.73" height="3.1" fill="#1f77b4"/>
<rect x="505.75" y="794.85" width="3.73" height="0.5" fill="#d62728"/>
<rect x="513.21" y="795.85" width="3.73" height="2.6" fill="#1f77b4"/>
<rect x="520.67" y="795.45" width="3.73" height="3" fill="#1f77b4"/>
<rect x="520.67" y="795.15" width="3.73" height="0.3" fill="#ff7f0e"/>
<rect x="520.67" y="794.85" width="3.73" height="0.3" fill="#d62728"/>
<rect x="528.13" y="784.35" width="3.73" height="14.1" fill="#1f77b4"/>
<rect x="528.13" y="782.75" width="3.73" height="1.6" fill="#9467bd"/>
<rect x="535.58" y="794.05" width="3.73" height="4.4" fill="#1f77b4"/>
<rect x="543.04" y="794.95" width="3.73" height="3.5" fill="#1f77b4"/>
<rect x="543.04" y="794.45" width="3.73" height="0.5" fill="#ff7f0e"/>
<rect x="550.5" y="794.05" width="3.73" height="4.4" fill="#1f77b4"/>
<rect x="557.96" y="795.85" width="3.73" height="2.6" fill="#1f77b4"/>
<rect x="565.42" y="795.05" width="3.73" height="3.4" fill="#1f77b4"/>
<rect x="565.42" y="794.75" width="3.73" height="0.3" fill="#ff7f0e"/>
<rect x="565.42" y="794.45" width="3.73" height="0.3" fill="#d62728"/>
<rect x="572.87" y="796.15" width="3.73" height="2.3" fill="#1f77b4"/>
<rect x="572.87" y="795.65" width="3.73" height="0.5" fill="#d62728"/>
<rect x="580.33" y="791.15" width="3.73" height="7.3" fill="#1f77b4"/>
<rect x="587.79" y="790.35" width="3.73" height="8.1" fill="#1f77b4"/>
<rect x="587.79" y="790.05" width="3.73" height="0.3" fill="#ff7f0e"/>
<rect x="587.79" y="789.75" width="3.73" height="0.3" fill="#d62728"/>
<rect x="595.25" y="796.05" width="3.73" height="2.4" fill="#1f77b4"/>
<rect x="602.71" y="794.85" width="3.73" height="3.6" fill="#1f77b4"/>
<rect x="610.16" y="795.85" width="3.73" height="2.6" fill="#1f77b4"/>
<rect x="610.16" y="795.55" width="3.73" height="0.3" fill="#ff7f0e"/>
<rect x="610.16" y="795.25" width="3.73" height="0.3" fill="#d62728"/>
<path d="M347.4,737.8V798.45M616.1,737.8V798.45" stroke="#000" stroke-width="0.6" fill="none"/>
<path d="M347.1,737.8H616.4M347.1,798.45H616.4" stroke="#000" stroke-width="0.55" fill="none"/>
<text x="342.4" y="801.05" text-anchor="end" font-size="6.9" textLength="19.61" lengthAdjust="spacingAndGlyphs">0.000</text>
<text x="342.4" y="785.89" text-anchor="end" font-size="6.9" textLength="19.61" lengthAdjust="spacingAndGlyphs">0.025</text>
<text x="342.4" y="770.72" text-anchor="end" font-size="6.9" textLength="19.61" lengthAdjust="spacingAndGlyphs">0.050</text>
<text x="342.4" y="755.56" text-anchor="end" font-size="6.9" textLength="19.61" lengthAdjust="spacingAndGlyphs">0.075</text>
<text x="342.4" y="740.4" text-anchor="end" font-size="6.9" textLength="19.61" lengthAdjust="spacingAndGlyphs">0.100</text>
<path d="M344.9,798.45H347.4M344.9,783.29H347.4M344.9,768.12H347.4M344.9,752.96H347.4M344.9,737.8H347.4" stroke="#000" stroke-width="0.55" fill="none"/>
<text x="481.75" y="733.8" text-anchor="middle" font-size="6.9" textLength="51.1" lengthAdjust="spacingAndGlyphs">Thymic Tumor</text>
<rect x="26.99" y="868.65" width="3.72" height="2.7" fill="#1f77b4"/>
<rect x="26.99" y="868.15" width="3.72" height="0.5" fill="#ff7f0e"/>
<rect x="34.45" y="836.65" width="3.72" height="34.7" fill="#1f77b4"/>
<rect x="34.45" y="836.35" width="3.72" height="0.3" fill="#d62728"/>
<rect x="34.45" y="836.05" width="3.72" height="0.3" fill="#9467bd"/>
<rect x="41.9" y="869.25" width="3.72" height="2.1" fill="#1f77b4"/>
<rect x="41.9" y="868.75" width="3.72" height="0.5" fill="#d62728"/>
<rect x="49.36" y="867.25" width="3.72" height="4.1" fill="#1f77b4"/>
<rect x="49.36" y="866.75" width="3.72" height="0.5" fill="#d62728"/>
<rect x="56.82" y="862.45" width="3.72" height="8.9" fill="#1f77b4"/>
<rect x="56.82" y="861.05" width="3.72" height="1.4" fill="#d62728"/>
<rect x="64.28" y="864.85" width="3.72" height="6.5" fill="#1f77b4"/>
<rect x="71.74" y="867.75" width="3.72" height="3.6" fill="#1f77b4"/>
<rect x="71.74" y="867.45" width="3.72" height="0.3" fill="#d62728"/>
<rect x="71.74" y="867.15" width="3.72" height="0.3" fill="#9467bd"/>
<rect x="79.19" y="868.65" width="3.72" height="2.7" fill="#1f77b4"/>
<rect x="79.19" y="868.15" width="3.72" height="0.5" fill="#d62728"/>
<rect x="86.65" y="867.45" width="3.72" height="3.9" fill="#1f77b4"/>
<rect x="86.65" y="866.95" width="3.72" height="0.5" fill="#9467bd"/>
<rect x="94.11" y="869.25" width="3.72" height="2.1" fill="#1f77b4"/>
<rect x="94.11" y="868.75" width="3.72" height="0.5" fill="#d62728"/>
<rect x="101.57" y="868.25" width="3.72" height="3.1" fill="#1f77b4"/>
<rect x="101.57" y="867.75" width="3.72" height="0.5" fill="#9467bd"/>
<rect x="109.03" y="866.05" width="3.72" height="5.3" fill="#1f77b4"/>
<rect x="109.03" y="865.05" width="3.72" height="1" fill="#ff7f0e"/>
<rect x="109.03" y="864.65" width="3.72" height="0.4" fill="#d62728"/>
<rect x="116.48" y="857.05" width="3.72" height="14.3" fill="#1f77b4"/>
<rect x="116.48" y="855.05" width="3.72" height="2" fill="#ff7f0e"/>
<rect x="116.48" y="854.65" width="3.72" height="0.4" fill="#d62728"/>
<rect x="123.94" y="864.55" width="3.72" height="6.8" fill="#1f77b4"/>
<rect x="123.94" y="864.05" width="3.72" height="0.5" fill="#d62728"/>
<rect x="131.4" y="852.45" width="3.72" height="18.9" fill="#1f77b4"/>
<rect x="131.4" y="851.95" width="3.72" height="0.5" fill="#9467bd"/>
<rect x="138.86" y="868.15" width="3.72" height="3.2" fill="#1f77b4"/>
<rect x="146.32" y="863.55" width="3.72" height="7.8" fill="#1f77b4"/>
<rect x="146.32" y="863.05" width="3.72" height="0.5" fill="#d62728"/>
<rect x="153.77" y="866.65" width="3.72" height="4.7" fill="#1f77b4"/>
<rect x="153.77" y="866.15" width="3.72" height="0.5" fill="#d62728"/>
<rect x="161.23" y="859.05" width="3.72" height="12.3" fill="#1f77b4"/>
<rect x="161.23" y="858.05" width="3.72" height="1" fill="#9467bd"/>
<rect x="168.69" y="865.55" width="3.72" height="5.8" fill="#1f77b4"/>
<rect x="176.15" y="868.65" width="3.72" height="2.7" fill="#1f77b4"/>
<rect x="176.15" y="868.15" width="3.72" height="0.5" fill="#d62728"/>
<rect x="183.61" y="868.15" width="3.72" height="3.2" fill="#1f77b4"/>
<rect x="183.61" y="867.75" width="3.72" height="0.4" fill="#ff7f0e"/>
<rect x="183.61" y="867.35" width="3.72" height="0.4" fill="#2ca02c"/>
<rect x="183.61" y="866.95" width="3.72" height="0.4" fill="#d62728"/>
<rect x="191.06" y="865.95" width="3.72" height="5.4" fill="#1f77b4"/>
<rect x="191.06" y="865.65" width="3.72" height="0.3" fill="#d62728"/>
<rect x="191.06" y="865.35" width="3.72" height="0.3" fill="#9467bd"/>
<rect x="198.52" y="868.45" width="3.72" height="2.9" fill="#1f77b4"/>
<rect x="198.52" y="867.95" width="3.72" height="0.5" fill="#d62728"/>
<rect x="205.98" y="868.35" width="3.72" height="3" fill="#1f77b4"/>
<rect x="205.98" y="868.05" width="3.72" height="0.3" fill="#d62728"/>
<rect x="205.98" y="867.75" width="3.72" height="0.3" fill="#9467bd"/>
<rect x="213.44" y="861.05" width="3.72" height="10.3" fill="#1f77b4"/>
<rect x="213.44" y="859.85" width="3.72" height="1.2" fill="#9467bd"/>
<rect x="220.9" y="867.95" width="3.72" height="3.4" fill="#1f77b4"/>
<rect x="228.35" y="866.45" width="3.72" height="4.9" fill="#1f77b4"/>
<rect x="228.35" y="865.95" width="3.72" height="0.5" fill="#9467bd"/>
<rect x="235.81" y="867.95" width="3.72" height="3.4" fill="#1f77b4"/>
<rect x="243.27" y="869.25" width="3.72" height="2.1" fill="#1f77b4"/>
<rect x="243.27" y="868.75" width="3.72" height="0.5" fill="#ff7f0e"/>
<rect x="250.73" y="868.45" width="3.72" height="2.9" fill="#1f77b4"/>
<rect x="250.73" y="867.95" width="3.72" height="0.5" fill="#d62728"/>
<rect x="258.19" y="865.65" width="3.72" height="5.7" fill="#1f77b4"/>
<rect x="258.19" y="865.15" width="3.72" height="0.5" fill="#d62728"/>
<rect x="265.64" y="862.85" width="3.72" height="8.5" fill="#1f77b4"/>
<rect x="265.64" y="861.05" width="3.72" height="1.8" fill="#ff7f0e"/>
<rect x="273.1" y="868.45" width="3.72" height="2.9" fill="#1f77b4"/>
<rect x="273.1" y="867.95" width="3.72" height="0.5" fill="#9467bd"/>
<rect x="280.56" y="867.65" width="3.72" height="3.7" fill="#1f77b4"/>
<rect x="280.56" y="867.15" width="3.72" height="0.5" fill="#9467bd"/>
<rect x="288.02" y="868.35" width="3.72" height="3" fill="#1f77b4"/>
<rect x="288.02" y="868.05" width="3.72" height="0.3" fill="#ff7f0e"/>
<rect x="288.02" y="867.75" width="3.72" height="0.3" fill="#d62728"/>
<path d="M25.5,810.7V871.35M293.6,810.7V871.35" stroke="#000" stroke-width="0.6" fill="none"/>
<path d="M25.2,810.7H293.9M25.2,871.35H293.9" stroke="#000" stroke-width="0.55" fill="none"/>
<text x="19.8" y="873.95" text-anchor="end" font-size="6.9" textLength="20.04" lengthAdjust="spacingAndGlyphs">0.000</text>
<text x="19.8" y="858.79" text-anchor="end" font-size="6.9" textLength="20.04" lengthAdjust="spacingAndGlyphs">0.025</text>
<text x="19.8" y="843.62" text-anchor="end" font-size="6.9" textLength="20.04" lengthAdjust="spacingAndGlyphs">0.050</text>
<text x="19.8" y="828.46" text-anchor="end" font-size="6.9" textLength="20.04" lengthAdjust="spacingAndGlyphs">0.075</text>
<text x="19.8" y="813.3" text-anchor="end" font-size="6.9" textLength="20.04" lengthAdjust="spacingAndGlyphs">0.100</text>
<path d="M23,871.35H25.5M23,856.19H25.5M23,841.02H25.5M23,825.86H25.5M23,810.7H25.5" stroke="#000" stroke-width="0.55" fill="none"/>
<text x="159.55" y="806.7" text-anchor="middle" font-size="6.9" textLength="70.38" lengthAdjust="spacingAndGlyphs">Endometrial Cancer</text>
<text transform="translate(30.45,876.95) rotate(-90)" text-anchor="end" font-size="7.2" textLength="12.88" lengthAdjust="spacingAndGlyphs">A2M</text>
<text transform="translate(37.91,876.95) rotate(-90)" text-anchor="end" font-size="7.2" textLength="22.85" lengthAdjust="spacingAndGlyphs">ACTBL2</text>
<text transform="translate(45.37,876.95) rotate(-90)" text-anchor="end" font-size="7.2" textLength="27.7" lengthAdjust="spacingAndGlyphs">BMS1P20</text>
<text transform="translate(52.82,876.95) rotate(-90)" text-anchor="end" font-size="7.2" textLength="7.87" lengthAdjust="spacingAndGlyphs">C3</text>
<text transform="translate(60.28,876.95) rotate(-90)" text-anchor="end" font-size="7.2" textLength="28.88" lengthAdjust="spacingAndGlyphs">CEACAM5</text>
<text transform="translate(67.74,876.95) rotate(-90)" text-anchor="end" font-size="7.2" textLength="17.16" lengthAdjust="spacingAndGlyphs">CHGA</text>
<text transform="translate(75.2,876.95) rotate(-90)" text-anchor="end" font-size="7.2" textLength="11.73" lengthAdjust="spacingAndGlyphs">CLU</text>
<text transform="translate(82.66,876.95) rotate(-90)" text-anchor="end" font-size="7.2" textLength="23.59" lengthAdjust="spacingAndGlyphs">COL6A2</text>
<text transform="translate(90.11,876.95) rotate(-90)" text-anchor="end" font-size="7.2" textLength="30.91" lengthAdjust="spacingAndGlyphs">COL6A4P1</text>
<text transform="translate(97.57,876.95) rotate(-90)" text-anchor="end" font-size="7.2" textLength="23.25" lengthAdjust="spacingAndGlyphs">EFEMP1</text>
<text transform="translate(105.03,876.95) rotate(-90)" text-anchor="end" font-size="7.2" textLength="16.54" lengthAdjust="spacingAndGlyphs">ENO1</text>
<text transform="translate(112.49,876.95) rotate(-90)" text-anchor="end" font-size="7.2" textLength="11.56" lengthAdjust="spacingAndGlyphs">FN1</text>
<text transform="translate(119.95,876.95) rotate(-90)" text-anchor="end" font-size="7.2" textLength="22.23" lengthAdjust="spacingAndGlyphs">FTHL17</text>
<text transform="translate(127.4,876.95) rotate(-90)" text-anchor="end" font-size="7.2" textLength="15.69" lengthAdjust="spacingAndGlyphs">FTMT</text>
<text transform="translate(134.86,876.95) rotate(-90)" text-anchor="end" font-size="7.2" textLength="30.43" lengthAdjust="spacingAndGlyphs">GNAS-AS1</text>
<text transform="translate(142.32,876.95) rotate(-90)" text-anchor="end" font-size="7.2" textLength="13.46" lengthAdjust="spacingAndGlyphs">IGF2</text>
<text transform="translate(149.78,876.95) rotate(-90)" text-anchor="end" font-size="7.2" textLength="14.78" lengthAdjust="spacingAndGlyphs">KLK3</text>
<text transform="translate(157.24,876.95) rotate(-90)" text-anchor="end" font-size="7.2" textLength="19.08" lengthAdjust="spacingAndGlyphs">KRT19</text>
<text transform="translate(164.69,876.95) rotate(-90)" text-anchor="end" font-size="7.2" textLength="15.33" lengthAdjust="spacingAndGlyphs">KRT5</text>
<text transform="translate(172.15,876.95) rotate(-90)" text-anchor="end" font-size="7.2" textLength="15.33" lengthAdjust="spacingAndGlyphs">KRT8</text>
<text transform="translate(179.61,876.95) rotate(-90)" text-anchor="end" font-size="7.2" textLength="14.72" lengthAdjust="spacingAndGlyphs">LCP1</text>
<text transform="translate(187.07,876.95) rotate(-90)" text-anchor="end" font-size="7.2" textLength="23.81" lengthAdjust="spacingAndGlyphs">MALAT1</text>
<text transform="translate(194.53,876.95) rotate(-90)" text-anchor="end" font-size="7.2" textLength="17.28" lengthAdjust="spacingAndGlyphs">MUC1</text>
<text transform="translate(201.98,876.95) rotate(-90)" text-anchor="end" font-size="7.2" textLength="23.07" lengthAdjust="spacingAndGlyphs">PABPC1</text>
<text transform="translate(209.44,876.95) rotate(-90)" text-anchor="end" font-size="7.2" textLength="14.01" lengthAdjust="spacingAndGlyphs">PLTP</text>
<text transform="translate(216.9,876.95) rotate(-90)" text-anchor="end" font-size="7.2" textLength="16.29" lengthAdjust="spacingAndGlyphs">PTMA</text>
<text transform="translate(224.36,876.95) rotate(-90)" text-anchor="end" font-size="7.2" textLength="16.17" lengthAdjust="spacingAndGlyphs">RGS5</text>
<text transform="translate(231.82,876.95) rotate(-90)" text-anchor="end" font-size="7.2" textLength="18.73" lengthAdjust="spacingAndGlyphs">RPL7A</text>
<text transform="translate(239.27,876.95) rotate(-90)" text-anchor="end" font-size="7.2" textLength="16.16" lengthAdjust="spacingAndGlyphs">SDC1</text>
<text transform="translate(246.73,876.95) rotate(-90)" text-anchor="end" font-size="7.2" textLength="11.55" lengthAdjust="spacingAndGlyphs">SFN</text>
<text transform="translate(254.19,876.95) rotate(-90)" text-anchor="end" font-size="7.2" textLength="18.35" lengthAdjust="spacingAndGlyphs">SFTPB</text>
<text transform="translate(261.65,876.95) rotate(-90)" text-anchor="end" font-size="7.2" textLength="19.56" lengthAdjust="spacingAndGlyphs">SPARC</text>
<text transform="translate(269.11,876.95) rotate(-90)" text-anchor="end" font-size="7.2" textLength="8.18" lengthAdjust="spacingAndGlyphs">TG</text>
<text transform="translate(276.56,876.95) rotate(-90)" text-anchor="end" font-size="7.2" textLength="23.8" lengthAdjust="spacingAndGlyphs">TUBA1A</text>
<text transform="translate(284.02,876.95) rotate(-90)" text-anchor="end" font-size="7.2" textLength="15.4" lengthAdjust="spacingAndGlyphs">XBP1</text>
<text transform="translate(291.48,876.95) rotate(-90)" text-anchor="end" font-size="7.2" textLength="13.13" lengthAdjust="spacingAndGlyphs">XIST</text>
<path d="M28.85,871.35V873.55M36.31,871.35V873.55M43.77,871.35V873.55M51.22,871.35V873.55M58.68,871.35V873.55M66.14,871.35V873.55M73.6,871.35V873.55M81.06,871.35V873.55M88.51,871.35V873.55M95.97,871.35V873.55M103.43,871.35V873.55M110.89,871.35V873.55M118.35,871.35V873.55M125.8,871.35V873.55M133.26,871.35V873.55M140.72,871.35V873.55M148.18,871.35V873.55M155.64,871.35V873.55M163.09,871.35V873.55M170.55,871.35V873.55M178.01,871.35V873.55M185.47,871.35V873.55M192.93,871.35V873.55M200.38,871.35V873.55M207.84,871.35V873.55M215.3,871.35V873.55M222.76,871.35V873.55M230.22,871.35V873.55M237.67,871.35V873.55M245.13,871.35V873.55M252.59,871.35V873.55M260.05,871.35V873.55M267.51,871.35V873.55M274.96,871.35V873.55M282.42,871.35V873.55M289.88,871.35V873.55" stroke="#000" stroke-width="0.6" fill="none"/>
<rect x="349.13" y="867.45" width="3.73" height="3.9" fill="#1f77b4"/>
<rect x="349.13" y="866.95" width="3.73" height="0.5" fill="#9467bd"/>
<rect x="356.59" y="868.55" width="3.73" height="2.8" fill="#1f77b4"/>
<rect x="364.05" y="870.05" width="3.73" height="1.3" fill="#1f77b4"/>
<rect x="364.05" y="869.55" width="3.73" height="0.5" fill="#9467bd"/>
<rect x="371.51" y="868.65" width="3.73" height="2.7" fill="#1f77b4"/>
<rect x="371.51" y="868.15" width="3.73" height="0.5" fill="#ff7f0e"/>
<rect x="378.97" y="867.45" width="3.73" height="3.9" fill="#1f77b4"/>
<rect x="378.97" y="866.95" width="3.73" height="0.5" fill="#9467bd"/>
<rect x="386.42" y="864.65" width="3.73" height="6.7" fill="#1f77b4"/>
<rect x="393.88" y="869.25" width="3.73" height="2.1" fill="#1f77b4"/>
<rect x="393.88" y="868.75" width="3.73" height="0.5" fill="#ff7f0e"/>
<rect x="401.34" y="869.75" width="3.73" height="1.6" fill="#1f77b4"/>
<rect x="408.8" y="868.95" width="3.73" height="2.4" fill="#1f77b4"/>
<rect x="416.26" y="869.75" width="3.73" height="1.6" fill="#1f77b4"/>
<rect x="416.26" y="869.45" width="3.73" height="0.3" fill="#ff7f0e"/>
<rect x="416.26" y="869.15" width="3.73" height="0.3" fill="#d62728"/>
<rect x="423.71" y="868.95" width="3.73" height="2.4" fill="#1f77b4"/>
<rect x="431.17" y="869.25" width="3.73" height="2.1" fill="#1f77b4"/>
<rect x="431.17" y="868.75" width="3.73" height="0.5" fill="#ff7f0e"/>
<rect x="438.63" y="866.25" width="3.73" height="5.1" fill="#1f77b4"/>
<rect x="438.63" y="864.45" width="3.73" height="1.8" fill="#ff7f0e"/>
<rect x="446.09" y="869.45" width="3.73" height="1.9" fill="#1f77b4"/>
<rect x="446.09" y="868.95" width="3.73" height="0.5" fill="#ff7f0e"/>
<rect x="453.55" y="842.95" width="3.73" height="28.4" fill="#1f77b4"/>
<rect x="461" y="869.55" width="3.73" height="1.8" fill="#1f77b4"/>
<rect x="468.46" y="864.95" width="3.73" height="6.4" fill="#1f77b4"/>
<rect x="475.92" y="866.15" width="3.73" height="5.2" fill="#1f77b4"/>
<rect x="483.38" y="863.25" width="3.73" height="8.1" fill="#1f77b4"/>
<rect x="490.84" y="866.15" width="3.73" height="5.2" fill="#1f77b4"/>
<rect x="498.29" y="869.55" width="3.73" height="1.8" fill="#1f77b4"/>
<rect x="505.75" y="869.15" width="3.73" height="2.2" fill="#1f77b4"/>
<rect x="513.21" y="869.15" width="3.73" height="2.2" fill="#1f77b4"/>
<rect x="520.67" y="868.35" width="3.73" height="3" fill="#1f77b4"/>
<rect x="528.13" y="868.85" width="3.73" height="2.5" fill="#1f77b4"/>
<rect x="528.13" y="868.35" width="3.73" height="0.5" fill="#9467bd"/>
<rect x="535.58" y="867.95" width="3.73" height="3.4" fill="#1f77b4"/>
<rect x="543.04" y="868.15" width="3.73" height="3.2" fill="#1f77b4"/>
<rect x="550.5" y="866.55" width="3.73" height="4.8" fill="#1f77b4"/>
<rect x="557.96" y="869.55" width="3.73" height="1.8" fill="#1f77b4"/>
<rect x="565.42" y="868.75" width="3.73" height="2.6" fill="#1f77b4"/>
<rect x="572.87" y="869.15" width="3.73" height="2.2" fill="#1f77b4"/>
<rect x="580.33" y="867.95" width="3.73" height="3.4" fill="#1f77b4"/>
<rect x="587.79" y="861.05" width="3.73" height="10.3" fill="#1f77b4"/>
<rect x="587.79" y="859.85" width="3.73" height="1.2" fill="#ff7f0e"/>
<rect x="595.25" y="869.35" width="3.73" height="2" fill="#1f77b4"/>
<rect x="602.71" y="867.95" width="3.73" height="3.4" fill="#1f77b4"/>
<rect x="610.16" y="870.05" width="3.73" height="1.3" fill="#1f77b4"/>
<rect x="610.16" y="869.55" width="3.73" height="0.5" fill="#ff7f0e"/>
<path d="M347.4,810.7V871.35M616.1,810.7V871.35" stroke="#000" stroke-width="0.6" fill="none"/>
<path d="M347.1,810.7H616.4M347.1,871.35H616.4" stroke="#000" stroke-width="0.55" fill="none"/>
<text x="342.4" y="873.95" text-anchor="end" font-size="6.9" textLength="19.61" lengthAdjust="spacingAndGlyphs">0.000</text>
<text x="342.4" y="858.79" text-anchor="end" font-size="6.9" textLength="19.61" lengthAdjust="spacingAndGlyphs">0.025</text>
<text x="342.4" y="843.62" text-anchor="end" font-size="6.9" textLength="19.61" lengthAdjust="spacingAndGlyphs">0.050</text>
<text x="342.4" y="828.46" text-anchor="end" font-size="6.9" textLength="19.61" lengthAdjust="spacingAndGlyphs">0.075</text>
<text x="342.4" y="813.3" text-anchor="end" font-size="6.9" textLength="19.61" lengthAdjust="spacingAndGlyphs">0.100</text>
<path d="M344.9,871.35H347.4M344.9,856.19H347.4M344.9,841.02H347.4M344.9,825.86H347.4M344.9,810.7H347.4" stroke="#000" stroke-width="0.55" fill="none"/>
<text x="481.75" y="806.7" text-anchor="middle" font-size="6.9" textLength="62.42" lengthAdjust="spacingAndGlyphs">Ocular Melanoma</text>
<text transform="translate(352.6,876.95) rotate(-90)" text-anchor="end" font-size="7.2" textLength="12.88" lengthAdjust="spacingAndGlyphs">A2M</text>
<text transform="translate(360.06,876.95) rotate(-90)" text-anchor="end" font-size="7.2" textLength="22.85" lengthAdjust="spacingAndGlyphs">ACTBL2</text>
<text transform="translate(367.52,876.95) rotate(-90)" text-anchor="end" font-size="7.2" textLength="27.7" lengthAdjust="spacingAndGlyphs">BMS1P20</text>
<text transform="translate(374.97,876.95) rotate(-90)" text-anchor="end" font-size="7.2" textLength="7.87" lengthAdjust="spacingAndGlyphs">C3</text>
<text transform="translate(382.43,876.95) rotate(-90)" text-anchor="end" font-size="7.2" textLength="28.88" lengthAdjust="spacingAndGlyphs">CEACAM5</text>
<text transform="translate(389.89,876.95) rotate(-90)" text-anchor="end" font-size="7.2" textLength="17.16" lengthAdjust="spacingAndGlyphs">CHGA</text>
<text transform="translate(397.35,876.95) rotate(-90)" text-anchor="end" font-size="7.2" textLength="11.73" lengthAdjust="spacingAndGlyphs">CLU</text>
<text transform="translate(404.81,876.95) rotate(-90)" text-anchor="end" font-size="7.2" textLength="23.59" lengthAdjust="spacingAndGlyphs">COL6A2</text>
<text transform="translate(412.26,876.95) rotate(-90)" text-anchor="end" font-size="7.2" textLength="30.91" lengthAdjust="spacingAndGlyphs">COL6A4P1</text>
<text transform="translate(419.72,876.95) rotate(-90)" text-anchor="end" font-size="7.2" textLength="23.25" lengthAdjust="spacingAndGlyphs">EFEMP1</text>
<text transform="translate(427.18,876.95) rotate(-90)" text-anchor="end" font-size="7.2" textLength="16.54" lengthAdjust="spacingAndGlyphs">ENO1</text>
<text transform="translate(434.64,876.95) rotate(-90)" text-anchor="end" font-size="7.2" textLength="11.56" lengthAdjust="spacingAndGlyphs">FN1</text>
<text transform="translate(442.1,876.95) rotate(-90)" text-anchor="end" font-size="7.2" textLength="22.23" lengthAdjust="spacingAndGlyphs">FTHL17</text>
<text transform="translate(449.55,876.95) rotate(-90)" text-anchor="end" font-size="7.2" textLength="15.69" lengthAdjust="spacingAndGlyphs">FTMT</text>
<text transform="translate(457.01,876.95) rotate(-90)" text-anchor="end" font-size="7.2" textLength="30.43" lengthAdjust="spacingAndGlyphs">GNAS-AS1</text>
<text transform="translate(464.47,876.95) rotate(-90)" text-anchor="end" font-size="7.2" textLength="13.46" lengthAdjust="spacingAndGlyphs">IGF2</text>
<text transform="translate(471.93,876.95) rotate(-90)" text-anchor="end" font-size="7.2" textLength="14.78" lengthAdjust="spacingAndGlyphs">KLK3</text>
<text transform="translate(479.39,876.95) rotate(-90)" text-anchor="end" font-size="7.2" textLength="19.08" lengthAdjust="spacingAndGlyphs">KRT19</text>
<text transform="translate(486.84,876.95) rotate(-90)" text-anchor="end" font-size="7.2" textLength="15.33" lengthAdjust="spacingAndGlyphs">KRT5</text>
<text transform="translate(494.3,876.95) rotate(-90)" text-anchor="end" font-size="7.2" textLength="15.33" lengthAdjust="spacingAndGlyphs">KRT8</text>
<text transform="translate(501.76,876.95) rotate(-90)" text-anchor="end" font-size="7.2" textLength="14.72" lengthAdjust="spacingAndGlyphs">LCP1</text>
<text transform="translate(509.22,876.95) rotate(-90)" text-anchor="end" font-size="7.2" textLength="23.81" lengthAdjust="spacingAndGlyphs">MALAT1</text>
<text transform="translate(516.68,876.95) rotate(-90)" text-anchor="end" font-size="7.2" textLength="17.28" lengthAdjust="spacingAndGlyphs">MUC1</text>
<text transform="translate(524.13,876.95) rotate(-90)" text-anchor="end" font-size="7.2" textLength="23.07" lengthAdjust="spacingAndGlyphs">PABPC1</text>
<text transform="translate(531.59,876.95) rotate(-90)" text-anchor="end" font-size="7.2" textLength="14.01" lengthAdjust="spacingAndGlyphs">PLTP</text>
<text transform="translate(539.05,876.95) rotate(-90)" text-anchor="end" font-size="7.2" textLength="16.29" lengthAdjust="spacingAndGlyphs">PTMA</text>
<text transform="translate(546.51,876.95) rotate(-90)" text-anchor="end" font-size="7.2" textLength="16.17" lengthAdjust="spacingAndGlyphs">RGS5</text>
<text transform="translate(553.97,876.95) rotate(-90)" text-anchor="end" font-size="7.2" textLength="18.73" lengthAdjust="spacingAndGlyphs">RPL7A</text>
<text transform="translate(561.42,876.95) rotate(-90)" text-anchor="end" font-size="7.2" textLength="16.16" lengthAdjust="spacingAndGlyphs">SDC1</text>
<text transform="translate(568.88,876.95) rotate(-90)" text-anchor="end" font-size="7.2" textLength="11.55" lengthAdjust="spacingAndGlyphs">SFN</text>
<text transform="translate(576.34,876.95) rotate(-90)" text-anchor="end" font-size="7.2" textLength="18.35" lengthAdjust="spacingAndGlyphs">SFTPB</text>
<text transform="translate(583.8,876.95) rotate(-90)" text-anchor="end" font-size="7.2" textLength="19.56" lengthAdjust="spacingAndGlyphs">SPARC</text>
<text transform="translate(591.26,876.95) rotate(-90)" text-anchor="end" font-size="7.2" textLength="8.18" lengthAdjust="spacingAndGlyphs">TG</text>
<text transform="translate(598.71,876.95) rotate(-90)" text-anchor="end" font-size="7.2" textLength="23.8" lengthAdjust="spacingAndGlyphs">TUBA1A</text>
<text transform="translate(606.17,876.95) rotate(-90)" text-anchor="end" font-size="7.2" textLength="15.4" lengthAdjust="spacingAndGlyphs">XBP1</text>
<text transform="translate(613.63,876.95) rotate(-90)" text-anchor="end" font-size="7.2" textLength="13.13" lengthAdjust="spacingAndGlyphs">XIST</text>
<path d="M351,871.35V873.55M358.46,871.35V873.55M365.92,871.35V873.55M373.37,871.35V873.55M380.83,871.35V873.55M388.29,871.35V873.55M395.75,871.35V873.55M403.21,871.35V873.55M410.66,871.35V873.55M418.12,871.35V873.55M425.58,871.35V873.55M433.04,871.35V873.55M440.5,871.35V873.55M447.95,871.35V873.55M455.41,871.35V873.55M462.87,871.35V873.55M470.33,871.35V873.55M477.79,871.35V873.55M485.24,871.35V873.55M492.7,871.35V873.55M500.16,871.35V873.55M507.62,871.35V873.55M515.08,871.35V873.55M522.53,871.35V873.55M529.99,871.35V873.55M537.45,871.35V873.55M544.91,871.35V873.55M552.37,871.35V873.55M559.82,871.35V873.55M567.28,871.35V873.55M574.74,871.35V873.55M582.2,871.35V873.55M589.66,871.35V873.55M597.11,871.35V873.55M604.57,871.35V873.55M612.03,871.35V873.55" stroke="#000" stroke-width="0.6" fill="none"/>
<rect x="635.9" y="6.6" width="48.4" height="54.6" rx="1.7" ry="1.5" fill="#fff" fill-opacity="0.8" stroke="#cccccc" stroke-width="0.7"/>
<rect x="639" y="9.75" width="17" height="5" fill="#1f77b4"/>
<text x="663.3" y="15.09" text-anchor="start" font-size="7.8" textLength="16.13" lengthAdjust="spacingAndGlyphs">EXP</text>
<rect x="639" y="20.2" width="17" height="5" fill="#ff7f0e"/>
<text x="663.3" y="25.54" text-anchor="start" font-size="7.8" textLength="16.68" lengthAdjust="spacingAndGlyphs">SNP</text>
<rect x="639" y="30.65" width="17" height="5" fill="#2ca02c"/>
<text x="663.3" y="35.99" text-anchor="start" font-size="7.8" textLength="14.09" lengthAdjust="spacingAndGlyphs">INS</text>
<rect x="639" y="41.1" width="17" height="5" fill="#d62728"/>
<text x="663.3" y="46.44" text-anchor="start" font-size="7.8" textLength="16.46" lengthAdjust="spacingAndGlyphs">DEL</text>
<rect x="639" y="51.55" width="17" height="5" fill="#9467bd"/>
<text x="663.3" y="56.89" text-anchor="start" font-size="7.8" textLength="17.9" lengthAdjust="spacingAndGlyphs">CNA</text>
</svg>
</body></html>
